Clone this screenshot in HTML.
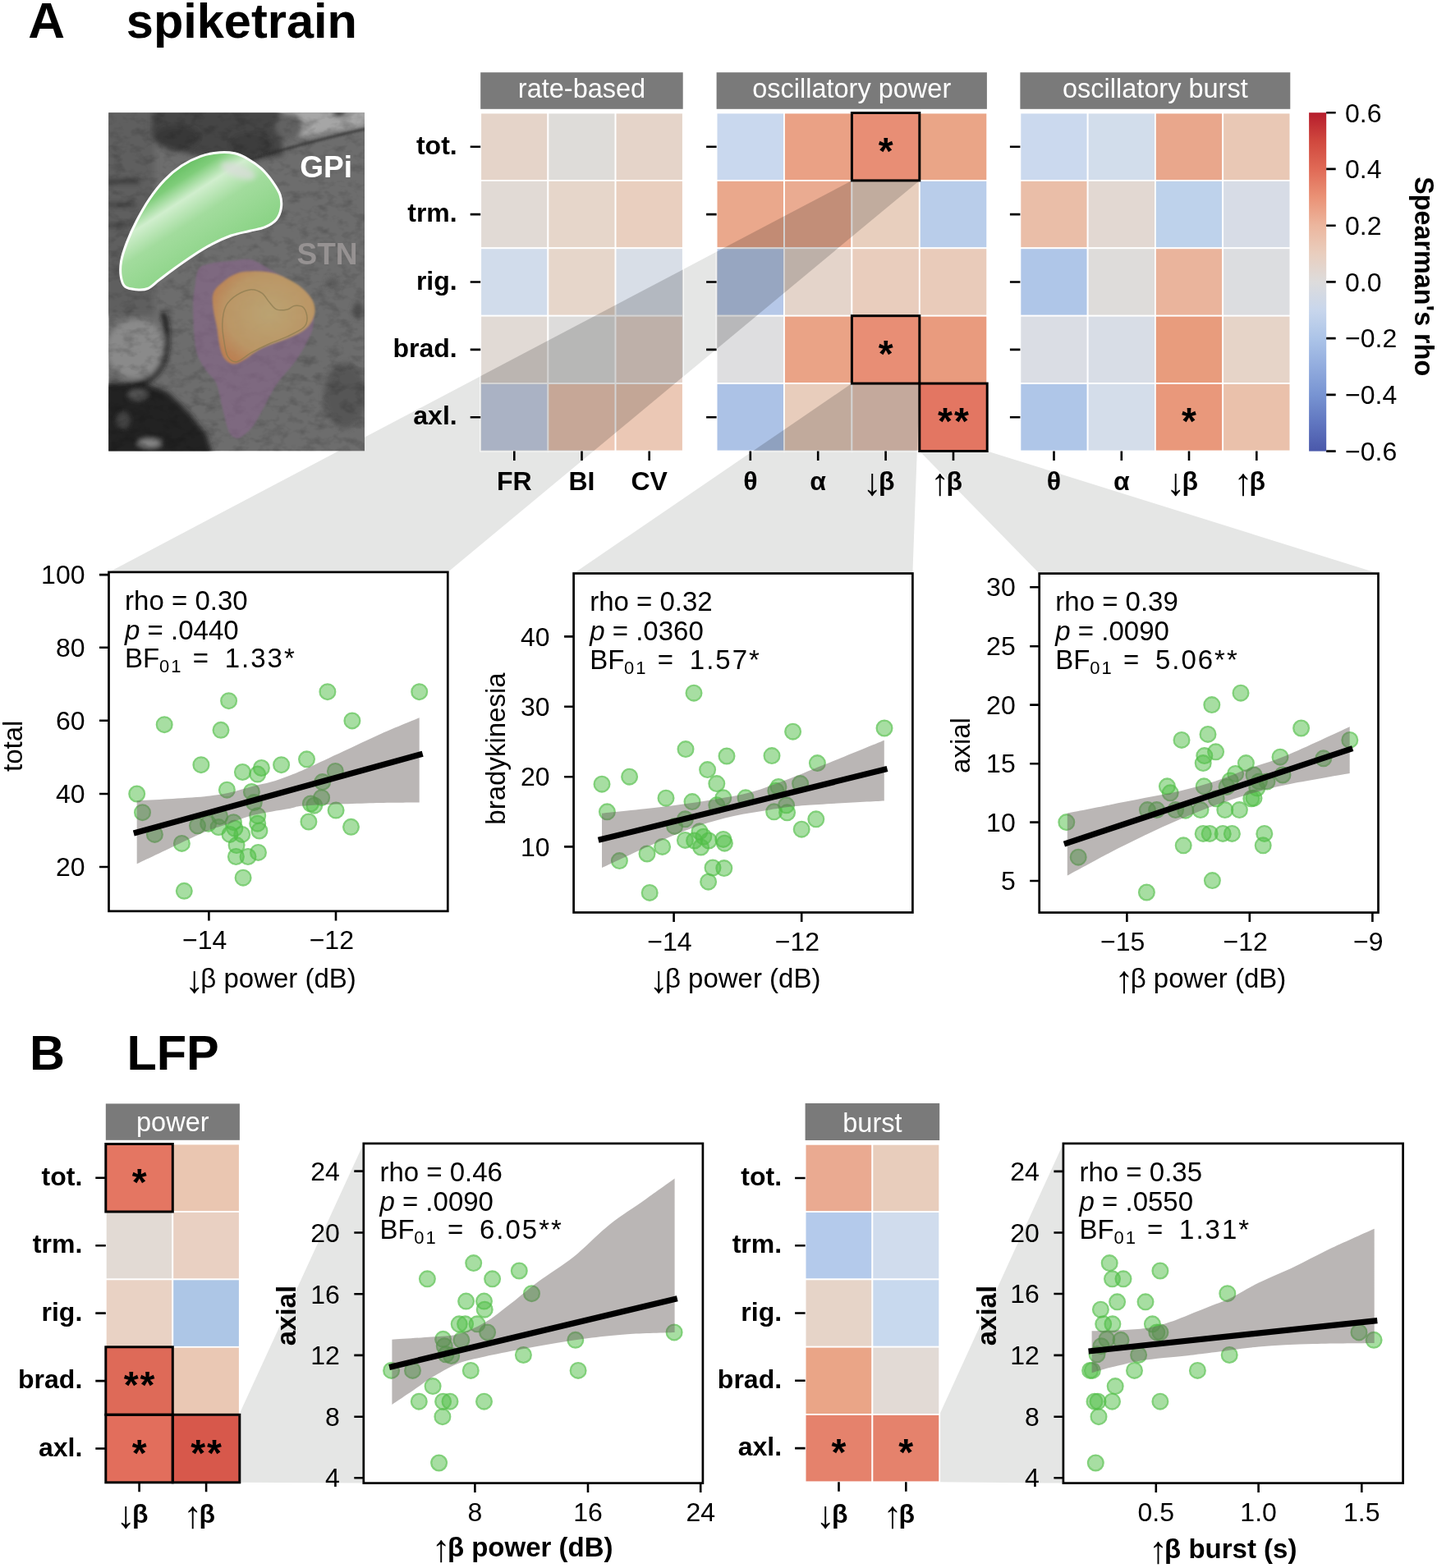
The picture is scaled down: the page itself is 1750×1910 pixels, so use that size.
<!DOCTYPE html><html><head><meta charset="utf-8"><title>figure</title><style>html,body{margin:0;padding:0;background:#fff;}svg{display:block;}</style></head><body><svg width="1750" height="1910" viewBox="0 0 1750 1910" font-family="'Liberation Sans', sans-serif"><defs><clipPath id="bclip"><rect x="132.2" y="137.2" width="311.8" height="412.4"/></clipPath><filter id="blur6" x="-50%" y="-50%" width="200%" height="200%"><feGaussianBlur stdDeviation="6"/></filter><filter id="blur3" x="-50%" y="-50%" width="200%" height="200%"><feGaussianBlur stdDeviation="3"/></filter><filter id="tex" x="0" y="0" width="100%" height="100%"><feTurbulence type="fractalNoise" baseFrequency="0.06 0.09" numOctaves="3" seed="7"/><feColorMatrix type="matrix" values="0 0 0 0 0  0 0 0 0 0  0 0 0 0 0  1.2 0 0 0 -0.55"/></filter><filter id="blur1" x="-20%" y="-20%" width="140%" height="140%"><feGaussianBlur stdDeviation="1.2"/></filter><linearGradient id="gpig" x1="0.15" y1="0.1" x2="0.75" y2="0.9"><stop offset="0" stop-color="#45ad43"/><stop offset="0.22" stop-color="#7fcd7a"/><stop offset="0.34" stop-color="#d0eecd"/><stop offset="0.5" stop-color="#a2dc9d"/><stop offset="0.8" stop-color="#8ad385"/><stop offset="1" stop-color="#5cbd58"/></linearGradient><clipPath id="gpiclip"><path d="M267.4,185.7 C274.3,185.1 280.1,185.5 285.9,186.8 C291.7,188.1 296.6,190.6 302,193.7 C307.4,196.8 313.1,200.6 318.1,205.2 C323.1,209.8 328.1,216 331.9,221.4 C335.7,226.8 339.4,232.1 341.1,237.5 C342.8,242.9 343.1,248.6 342.3,253.6 C341.5,258.6 339.8,263.6 336.5,267.4 C333.2,271.2 328.1,274.3 322.7,276.6 C317.3,278.9 311.2,279.6 304.3,281.3 C297.4,283 289,284.3 281.3,287 C273.6,289.7 265.9,293.4 258.2,297.4 C250.5,301.4 242.9,306.2 235.2,311.2 C227.5,316.2 219,322.3 212.1,327.3 C205.2,332.3 199.1,337.1 193.7,341.1 C188.3,345.1 184.5,349.6 179.9,351.5 C175.3,353.4 170.7,353.1 166.1,352.7 C161.5,352.3 155.5,351.9 152.3,349.2 C149.2,346.5 148,341.7 147.2,336.5 C146.4,331.3 146.4,325 147.6,318.1 C148.8,311.2 151.5,303.2 154.6,295.1 C157.7,287 161.5,278.5 166.1,269.7 C170.7,260.9 176.4,250.5 182.2,242.1 C187.9,233.7 194.1,225.8 200.6,219.1 C207.1,212.4 214.1,206.6 221.4,201.8 C228.7,197 236.7,193 244.4,190.3 C252.1,187.6 260.5,186.3 267.4,185.7Z"/></clipPath><radialGradient id="orng" cx="0.55" cy="0.45" r="0.6"><stop offset="0" stop-color="#c8b070"/><stop offset="0.7" stop-color="#c9a060"/><stop offset="1" stop-color="#c8864a"/></radialGradient><clipPath id="clip_rate"><rect x="585.2" y="137.5" width="246.6" height="412"/></clipPath><clipPath id="clip_opow"><rect x="872.6" y="137.5" width="329.6" height="412"/></clipPath><linearGradient id="cbar" x1="0" y1="0" x2="0" y2="1"><stop offset="0.0000" stop-color="#b61c2c"/><stop offset="0.0833" stop-color="#d0483e"/><stop offset="0.1667" stop-color="#e06a56"/><stop offset="0.2500" stop-color="#ea9276"/><stop offset="0.3333" stop-color="#ecb69e"/><stop offset="0.4167" stop-color="#e9cebe"/><stop offset="0.5000" stop-color="#dddcdc"/><stop offset="0.5833" stop-color="#c8d6ec"/><stop offset="0.6667" stop-color="#acc4e8"/><stop offset="0.7500" stop-color="#92acde"/><stop offset="0.8333" stop-color="#7894d2"/><stop offset="0.9167" stop-color="#6076c0"/><stop offset="1.0000" stop-color="#4a58aa"/></linearGradient></defs><rect width="1750" height="1910" fill="#ffffff"/><polygon points="1037.4,219.9 1119.8,219.9 545.3,696.9 132.5,696.9" fill="#e5e6e5"/>
<polygon points="1037.4,467.1 1119.8,467.1 1111.4,698.5 698.6,698.5" fill="#e5e6e5"/>
<polygon points="1119.8,549.5 1202.2,549.5 1678.5,698.6 1265.7,698.6" fill="#e5e6e5"/>
<polygon points="291.8,1721.8 442.8,1392.9 442.8,1806.6 291.8,1805.8" fill="#e5e6e5"/>
<polygon points="1144.2,1723 1294.9,1392.9 1294.9,1806.6 1144.2,1805.3" fill="#e5e6e5"/>
<g clip-path="url(#bclip)"><rect x="132.2" y="137.2" width="311.8" height="412.4" fill="#6d6d6d"/><g filter="url(#blur3)"><rect x="120" y="130" width="68" height="255" fill="#5e5e5e"/><rect x="128" y="218" width="42" height="6" fill="#363636"/><rect x="128" y="247" width="38" height="5" fill="#3a3a3a"/><rect x="128" y="272" width="30" height="5" fill="#3e3e3e"/><polygon points="185,130 340,130 345,190 300,197 250,192 205,182 185,170" fill="#444"/><ellipse cx="215" cy="167" rx="28" ry="14" fill="#383838"/><ellipse cx="305" cy="176" rx="26" ry="14" fill="#3c3c3c"/><polygon points="345,130 450,130 450,153 412,159 378,166 356,168" fill="#a6a6a6"/><ellipse cx="352" cy="154" rx="17" ry="16" fill="#626262"/><ellipse cx="413" cy="138" rx="9" ry="4" fill="#111"/><ellipse cx="166" cy="425" rx="36" ry="36" fill="#8a8a8a"/><path d="M198,380 C206,400 204,430 197,445 C190,458 180,466 160,469 L120,472" stroke="#161616" stroke-width="6" fill="none"/><polygon points="120,470 180,468 205,478 232,505 252,530 260,560 120,560" fill="#202020"/><ellipse cx="168" cy="481" rx="12" ry="6" fill="#5a5a5a"/><ellipse cx="182" cy="540" rx="14" ry="5" fill="#8a8a8a"/><ellipse cx="150" cy="512" rx="8" ry="10" fill="#444"/><ellipse cx="420" cy="482" rx="26" ry="40" fill="#565656"/><ellipse cx="436" cy="378" rx="6" ry="10" fill="#484848"/><ellipse cx="405" cy="345" rx="8" ry="7" fill="#5a5a5a"/></g><rect x="132.2" y="137.2" width="311.8" height="412.4" filter="url(#tex)" opacity="0.35"/><path d="M292,198 C330,186 380,172 445,157" stroke="#2c2c2c" stroke-width="3.5" stroke-opacity="0.6" fill="none" filter="url(#blur1)"/><path d="M242.1,327.3 C245.5,322.7 252,321.9 258.2,320.4 C264.3,318.9 271.7,318.9 279,318.1 C286.3,317.3 295.9,315.4 302,315.8 C308.1,316.2 311.6,318.5 315.8,320.4 C320,322.3 321.5,323.9 327.3,327.3 C333.1,330.8 343.5,336.9 350.4,341.1 C357.3,345.3 363.8,348.1 368.8,352.7 C373.8,357.3 378.2,361.5 380.3,368.8 C382.4,376.1 382.6,388.3 381.5,396.4 C380.4,404.5 377,410 373.4,417.2 C369.8,424.4 365.9,431.4 360,439.7 C354.1,448 343.9,458.2 337.7,467.1 C331.5,476 327.8,484.5 322.9,493.2 C317.9,501.9 312.9,512.7 308,519.2 C303.1,525.8 296.9,530.2 293.2,532.5 C289.5,534.8 288.2,534.3 285.7,533 C283.2,531.7 280.8,530.6 278.3,524.6 C275.8,518.6 273.4,506.5 270.9,496.9 C268.4,487.3 266.8,474.9 263.4,467.1 C260,459.3 254.5,457.3 250.3,450.3 C246.1,443.3 240.9,437.8 238.4,425 C235.9,412.2 235.3,386.2 235.2,373.4 C235,360.6 236.3,355.8 237.5,348.1 C238.7,340.4 238.7,331.9 242.1,327.3Z" fill="#88668a" fill-opacity="0.62" filter="url(#blur1)"/><path d="M259.8,357.1 C261.6,351.6 266,348 270.8,343.9 C275.5,339.9 281.7,335.2 288.3,332.9 C294.9,330.7 303,330.4 310.3,330.3 C317.7,330.2 325.7,331 332.3,332.5 C338.9,334 344.1,336.5 349.9,339.5 C355.8,342.5 362.4,346.1 367.5,350.5 C372.7,354.9 378.1,360.8 380.7,365.9 C383.4,371.1 384.1,376.2 383.4,381.3 C382.6,386.4 380.1,392.3 376.3,396.7 C372.6,401.1 367.2,404.4 360.9,407.7 C354.7,411 346.3,413.6 338.9,416.5 C331.6,419.4 323.9,421.6 316.9,425.3 C310,429 302.6,435.5 297.1,438.5 C291.6,441.5 288,443.7 283.9,443.3 C279.9,443 275.7,440 273,436.3 C270.2,432.6 268.9,427.1 267.5,420.9 C266,414.7 265.4,406.2 264.2,398.9 C262.9,391.6 260.5,383.9 259.8,376.9 C259,370 257.9,362.6 259.8,357.1Z" fill="url(#orng)" fill-opacity="0.82" filter="url(#blur1)"/><path d="M275.2,372.5 C278.1,366.7 283.2,362.6 288.3,359.3 C293.5,356 300.8,353.1 305.9,352.7 C311.1,352.4 315.5,354.6 319.1,357.1 C322.8,359.7 325,364.8 327.9,368.1 C330.9,371.4 333.1,375.5 336.7,376.9 C340.4,378.4 346.3,377.7 349.9,376.9 C353.6,376.2 355.4,372.9 358.7,372.5 C362,372.2 367.2,372.2 369.7,374.7 C372.3,377.3 374.1,383.9 374.1,387.9 C374.1,391.9 373.8,395.2 369.7,398.9 C365.7,402.6 356.9,406.6 349.9,409.9 C343,413.2 335.3,415.4 327.9,418.7 C320.6,422 312.5,426 305.9,429.7 C299.3,433.4 293.1,440 288.3,440.7 C283.6,441.4 279.9,438.1 277.3,434.1 C274.8,430.1 274.1,423.1 273,416.5 C271.9,409.9 270.4,401.8 270.8,394.5 C271.1,387.2 272.2,378.4 275.2,372.5Z" fill="none" stroke="#8a7a50" stroke-width="1.5" stroke-opacity="0.7"/><path d="M267.4,185.7 C274.3,185.1 280.1,185.5 285.9,186.8 C291.7,188.1 296.6,190.6 302,193.7 C307.4,196.8 313.1,200.6 318.1,205.2 C323.1,209.8 328.1,216 331.9,221.4 C335.7,226.8 339.4,232.1 341.1,237.5 C342.8,242.9 343.1,248.6 342.3,253.6 C341.5,258.6 339.8,263.6 336.5,267.4 C333.2,271.2 328.1,274.3 322.7,276.6 C317.3,278.9 311.2,279.6 304.3,281.3 C297.4,283 289,284.3 281.3,287 C273.6,289.7 265.9,293.4 258.2,297.4 C250.5,301.4 242.9,306.2 235.2,311.2 C227.5,316.2 219,322.3 212.1,327.3 C205.2,332.3 199.1,337.1 193.7,341.1 C188.3,345.1 184.5,349.6 179.9,351.5 C175.3,353.4 170.7,353.1 166.1,352.7 C161.5,352.3 155.5,351.9 152.3,349.2 C149.2,346.5 148,341.7 147.2,336.5 C146.4,331.3 146.4,325 147.6,318.1 C148.8,311.2 151.5,303.2 154.6,295.1 C157.7,287 161.5,278.5 166.1,269.7 C170.7,260.9 176.4,250.5 182.2,242.1 C187.9,233.7 194.1,225.8 200.6,219.1 C207.1,212.4 214.1,206.6 221.4,201.8 C228.7,197 236.7,193 244.4,190.3 C252.1,187.6 260.5,186.3 267.4,185.7Z" fill="url(#gpig)"/><g clip-path="url(#gpiclip)"><ellipse cx="290" cy="208" rx="22" ry="8" transform="rotate(20 290 208)" fill="#d8ddd8" fill-opacity="0.8" filter="url(#blur3)"/></g><path d="M267.4,185.7 C274.3,185.1 280.1,185.5 285.9,186.8 C291.7,188.1 296.6,190.6 302,193.7 C307.4,196.8 313.1,200.6 318.1,205.2 C323.1,209.8 328.1,216 331.9,221.4 C335.7,226.8 339.4,232.1 341.1,237.5 C342.8,242.9 343.1,248.6 342.3,253.6 C341.5,258.6 339.8,263.6 336.5,267.4 C333.2,271.2 328.1,274.3 322.7,276.6 C317.3,278.9 311.2,279.6 304.3,281.3 C297.4,283 289,284.3 281.3,287 C273.6,289.7 265.9,293.4 258.2,297.4 C250.5,301.4 242.9,306.2 235.2,311.2 C227.5,316.2 219,322.3 212.1,327.3 C205.2,332.3 199.1,337.1 193.7,341.1 C188.3,345.1 184.5,349.6 179.9,351.5 C175.3,353.4 170.7,353.1 166.1,352.7 C161.5,352.3 155.5,351.9 152.3,349.2 C149.2,346.5 148,341.7 147.2,336.5 C146.4,331.3 146.4,325 147.6,318.1 C148.8,311.2 151.5,303.2 154.6,295.1 C157.7,287 161.5,278.5 166.1,269.7 C170.7,260.9 176.4,250.5 182.2,242.1 C187.9,233.7 194.1,225.8 200.6,219.1 C207.1,212.4 214.1,206.6 221.4,201.8 C228.7,197 236.7,193 244.4,190.3 C252.1,187.6 260.5,186.3 267.4,185.7Z" fill="none" stroke="#ffffff" stroke-width="3"/></g>
<text x="365.3" y="216.4" font-size="37" font-weight="bold" text-anchor="start" fill="#ffffff" >GPi</text>
<text x="361.5" y="322.3" font-size="37" font-weight="bold" text-anchor="start" fill="#969292" >STN</text>
<rect x="585.2" y="137.5" width="82.2" height="82.4" fill="#e5d4c9" stroke="#ffffff" stroke-width="1.8"/><rect x="667.4" y="137.5" width="82.2" height="82.4" fill="#dedcd9" stroke="#ffffff" stroke-width="1.8"/><rect x="749.6" y="137.5" width="82.2" height="82.4" fill="#e5d4c9" stroke="#ffffff" stroke-width="1.8"/><rect x="585.2" y="219.9" width="82.2" height="82.4" fill="#e1dad5" stroke="#ffffff" stroke-width="1.8"/><rect x="667.4" y="219.9" width="82.2" height="82.4" fill="#e6d6ca" stroke="#ffffff" stroke-width="1.8"/><rect x="749.6" y="219.9" width="82.2" height="82.4" fill="#e9cfbf" stroke="#ffffff" stroke-width="1.8"/><rect x="585.2" y="302.3" width="82.2" height="82.4" fill="#d1dceb" stroke="#ffffff" stroke-width="1.8"/><rect x="667.4" y="302.3" width="82.2" height="82.4" fill="#e6d6ca" stroke="#ffffff" stroke-width="1.8"/><rect x="749.6" y="302.3" width="82.2" height="82.4" fill="#d8dee7" stroke="#ffffff" stroke-width="1.8"/><rect x="585.2" y="384.7" width="82.2" height="82.4" fill="#e1dad5" stroke="#ffffff" stroke-width="1.8"/><rect x="667.4" y="384.7" width="82.2" height="82.4" fill="#dddcdb" stroke="#ffffff" stroke-width="1.8"/><rect x="749.6" y="384.7" width="82.2" height="82.4" fill="#e5d4cc" stroke="#ffffff" stroke-width="1.8"/><rect x="585.2" y="467.1" width="82.2" height="82.4" fill="#cdd7ec" stroke="#ffffff" stroke-width="1.8"/><rect x="667.4" y="467.1" width="82.2" height="82.4" fill="#eec9b6" stroke="#ffffff" stroke-width="1.8"/><rect x="749.6" y="467.1" width="82.2" height="82.4" fill="#ebc8b5" stroke="#ffffff" stroke-width="1.8"/>
<g clip-path="url(#clip_rate)" fill="#000" fill-opacity="0.17"><polygon points="1037.4,219.9 1119.8,219.9 545.3,696.9 132.5,696.9"/><polygon points="1037.4,467.1 1119.8,467.1 1111.4,698.5 698.6,698.5"/></g>
<rect x="872.6" y="137.5" width="82.4" height="82.4" fill="#c9d8ee" stroke="#ffffff" stroke-width="1.8"/><rect x="955" y="137.5" width="82.4" height="82.4" fill="#eaa185" stroke="#ffffff" stroke-width="1.8"/><rect x="1037.4" y="137.5" width="82.4" height="82.4" fill="#e88e75" stroke="#ffffff" stroke-width="1.8"/><rect x="1119.8" y="137.5" width="82.4" height="82.4" fill="#eaa587" stroke="#ffffff" stroke-width="1.8"/><rect x="872.6" y="219.9" width="82.4" height="82.4" fill="#eaa88c" stroke="#ffffff" stroke-width="1.8"/><rect x="955" y="219.9" width="82.4" height="82.4" fill="#eaab91" stroke="#ffffff" stroke-width="1.8"/><rect x="1037.4" y="219.9" width="82.4" height="82.4" fill="#e8cfbe" stroke="#ffffff" stroke-width="1.8"/><rect x="1119.8" y="219.9" width="82.4" height="82.4" fill="#b9cdea" stroke="#ffffff" stroke-width="1.8"/><rect x="872.6" y="302.3" width="82.4" height="82.4" fill="#b6c8e8" stroke="#ffffff" stroke-width="1.8"/><rect x="955" y="302.3" width="82.4" height="82.4" fill="#e4d4ca" stroke="#ffffff" stroke-width="1.8"/><rect x="1037.4" y="302.3" width="82.4" height="82.4" fill="#e9cdbd" stroke="#ffffff" stroke-width="1.8"/><rect x="1119.8" y="302.3" width="82.4" height="82.4" fill="#e9cbba" stroke="#ffffff" stroke-width="1.8"/><rect x="872.6" y="384.7" width="82.4" height="82.4" fill="#dedee0" stroke="#ffffff" stroke-width="1.8"/><rect x="955" y="384.7" width="82.4" height="82.4" fill="#eaa386" stroke="#ffffff" stroke-width="1.8"/><rect x="1037.4" y="384.7" width="82.4" height="82.4" fill="#e88e75" stroke="#ffffff" stroke-width="1.8"/><rect x="1119.8" y="384.7" width="82.4" height="82.4" fill="#e99b7e" stroke="#ffffff" stroke-width="1.8"/><rect x="872.6" y="467.1" width="82.4" height="82.4" fill="#acc2e6" stroke="#ffffff" stroke-width="1.8"/><rect x="955" y="467.1" width="82.4" height="82.4" fill="#e8cdbc" stroke="#ffffff" stroke-width="1.8"/><rect x="1037.4" y="467.1" width="82.4" height="82.4" fill="#ecccbc" stroke="#ffffff" stroke-width="1.8"/><rect x="1119.8" y="467.1" width="82.4" height="82.4" fill="#e37662" stroke="#ffffff" stroke-width="1.8"/>
<g clip-path="url(#clip_opow)" fill="#000" fill-opacity="0.17"><polygon points="1037.4,219.9 1119.8,219.9 545.3,696.9 132.5,696.9"/><polygon points="1037.4,467.1 1119.8,467.1 1111.4,698.5 698.6,698.5"/></g>
<rect x="1242.4" y="137.5" width="82.2" height="82.4" fill="#cbd9ee" stroke="#ffffff" stroke-width="1.8"/><rect x="1324.7" y="137.5" width="82.2" height="82.4" fill="#d2ddeb" stroke="#ffffff" stroke-width="1.8"/><rect x="1406.9" y="137.5" width="82.2" height="82.4" fill="#e9a78c" stroke="#ffffff" stroke-width="1.8"/><rect x="1489.2" y="137.5" width="82.2" height="82.4" fill="#e9c8b5" stroke="#ffffff" stroke-width="1.8"/><rect x="1242.4" y="219.9" width="82.2" height="82.4" fill="#eabea8" stroke="#ffffff" stroke-width="1.8"/><rect x="1324.7" y="219.9" width="82.2" height="82.4" fill="#e2d8d2" stroke="#ffffff" stroke-width="1.8"/><rect x="1406.9" y="219.9" width="82.2" height="82.4" fill="#bed2eb" stroke="#ffffff" stroke-width="1.8"/><rect x="1489.2" y="219.9" width="82.2" height="82.4" fill="#d7dce6" stroke="#ffffff" stroke-width="1.8"/><rect x="1242.4" y="302.3" width="82.2" height="82.4" fill="#afc6e8" stroke="#ffffff" stroke-width="1.8"/><rect x="1324.7" y="302.3" width="82.2" height="82.4" fill="#dedcda" stroke="#ffffff" stroke-width="1.8"/><rect x="1406.9" y="302.3" width="82.2" height="82.4" fill="#eab49c" stroke="#ffffff" stroke-width="1.8"/><rect x="1489.2" y="302.3" width="82.2" height="82.4" fill="#dcdde0" stroke="#ffffff" stroke-width="1.8"/><rect x="1242.4" y="384.7" width="82.2" height="82.4" fill="#dadde4" stroke="#ffffff" stroke-width="1.8"/><rect x="1324.7" y="384.7" width="82.2" height="82.4" fill="#d8dde6" stroke="#ffffff" stroke-width="1.8"/><rect x="1406.9" y="384.7" width="82.2" height="82.4" fill="#e89c7d" stroke="#ffffff" stroke-width="1.8"/><rect x="1489.2" y="384.7" width="82.2" height="82.4" fill="#e6d4c8" stroke="#ffffff" stroke-width="1.8"/><rect x="1242.4" y="467.1" width="82.2" height="82.4" fill="#afc6e8" stroke="#ffffff" stroke-width="1.8"/><rect x="1324.7" y="467.1" width="82.2" height="82.4" fill="#d4ddea" stroke="#ffffff" stroke-width="1.8"/><rect x="1406.9" y="467.1" width="82.2" height="82.4" fill="#e9987b" stroke="#ffffff" stroke-width="1.8"/><rect x="1489.2" y="467.1" width="82.2" height="82.4" fill="#eac1ab" stroke="#ffffff" stroke-width="1.8"/>
<rect x="128.8" y="1393.5" width="81.5" height="82.5" fill="#e47662" stroke="#ffffff" stroke-width="1.8"/><rect x="210.3" y="1393.5" width="81.5" height="82.5" fill="#eac6b1" stroke="#ffffff" stroke-width="1.8"/><rect x="128.8" y="1476" width="81.5" height="82.5" fill="#e2dad4" stroke="#ffffff" stroke-width="1.8"/><rect x="210.3" y="1476" width="81.5" height="82.5" fill="#e9d0c2" stroke="#ffffff" stroke-width="1.8"/><rect x="128.8" y="1558.4" width="81.5" height="82.5" fill="#e9d2c4" stroke="#ffffff" stroke-width="1.8"/><rect x="210.3" y="1558.4" width="81.5" height="82.5" fill="#adc6e6" stroke="#ffffff" stroke-width="1.8"/><rect x="128.8" y="1640.8" width="81.5" height="82.5" fill="#de6a58" stroke="#ffffff" stroke-width="1.8"/><rect x="210.3" y="1640.8" width="81.5" height="82.5" fill="#eac8b4" stroke="#ffffff" stroke-width="1.8"/><rect x="128.8" y="1723.3" width="81.5" height="82.5" fill="#e26e5c" stroke="#ffffff" stroke-width="1.8"/><rect x="210.3" y="1723.3" width="81.5" height="82.5" fill="#d7584b" stroke="#ffffff" stroke-width="1.8"/>
<rect x="980.6" y="1393.8" width="81.8" height="82.3" fill="#eaaa91" stroke="#ffffff" stroke-width="1.8"/><rect x="1062.4" y="1393.8" width="81.8" height="82.3" fill="#e8cdbc" stroke="#ffffff" stroke-width="1.8"/><rect x="980.6" y="1476.1" width="81.8" height="82.3" fill="#b4caeb" stroke="#ffffff" stroke-width="1.8"/><rect x="1062.4" y="1476.1" width="81.8" height="82.3" fill="#d0dced" stroke="#ffffff" stroke-width="1.8"/><rect x="980.6" y="1558.4" width="81.8" height="82.3" fill="#e6d4c8" stroke="#ffffff" stroke-width="1.8"/><rect x="1062.4" y="1558.4" width="81.8" height="82.3" fill="#c8d9ee" stroke="#ffffff" stroke-width="1.8"/><rect x="980.6" y="1640.7" width="81.8" height="82.3" fill="#eaa587" stroke="#ffffff" stroke-width="1.8"/><rect x="1062.4" y="1640.7" width="81.8" height="82.3" fill="#e2dad5" stroke="#ffffff" stroke-width="1.8"/><rect x="980.6" y="1723" width="81.8" height="82.3" fill="#e5826c" stroke="#ffffff" stroke-width="1.8"/><rect x="1062.4" y="1723" width="81.8" height="82.3" fill="#e5826c" stroke="#ffffff" stroke-width="1.8"/>
<rect x="1037.4" y="137.5" width="82.4" height="82.4" fill="none" stroke="#000" stroke-width="3"/>
<rect x="1037.4" y="384.7" width="82.4" height="82.4" fill="none" stroke="#000" stroke-width="3"/>
<rect x="1119.8" y="467.1" width="82.4" height="82.4" fill="none" stroke="#000" stroke-width="3"/>
<rect x="128.8" y="1393.5" width="81.5" height="82.5" fill="none" stroke="#000" stroke-width="3"/>
<rect x="128.8" y="1640.8" width="81.5" height="82.5" fill="none" stroke="#000" stroke-width="3"/>
<rect x="128.8" y="1723.3" width="81.5" height="82.5" fill="none" stroke="#000" stroke-width="3"/>
<rect x="210.3" y="1723.3" width="81.5" height="82.5" fill="none" stroke="#000" stroke-width="3"/>
<text x="1078.6" y="199.7" font-size="46" font-weight="bold" text-anchor="middle" fill="#000" >*</text>
<text x="1078.6" y="446.9" font-size="46" font-weight="bold" text-anchor="middle" fill="#000" >*</text>
<text x="1162" y="529.3" font-size="46" font-weight="bold" text-anchor="middle" fill="#000"  letter-spacing="2">**</text>
<text x="1448" y="529.3" font-size="46" font-weight="bold" text-anchor="middle" fill="#000" >*</text>
<text x="169.6" y="1455.7" font-size="46" font-weight="bold" text-anchor="middle" fill="#000" >*</text>
<text x="170.6" y="1703.1" font-size="46" font-weight="bold" text-anchor="middle" fill="#000"  letter-spacing="2">**</text>
<text x="169.6" y="1785.5" font-size="46" font-weight="bold" text-anchor="middle" fill="#000" >*</text>
<text x="252.1" y="1785.5" font-size="46" font-weight="bold" text-anchor="middle" fill="#000"  letter-spacing="2">**</text>
<text x="1021.5" y="1785.2" font-size="46" font-weight="bold" text-anchor="middle" fill="#000" >*</text>
<text x="1103.3" y="1785.2" font-size="46" font-weight="bold" text-anchor="middle" fill="#000" >*</text>
<rect x="585.2" y="88.2" width="246.5" height="44.6" fill="#7a7a7a"/>
<text x="708.5" y="118.9" font-size="32.5" font-weight="normal" text-anchor="middle" fill="#ffffff" >rate-based</text>
<rect x="872.6" y="88.2" width="329.3" height="44.6" fill="#7a7a7a"/>
<text x="1037.2" y="118.9" font-size="32.5" font-weight="normal" text-anchor="middle" fill="#ffffff" >oscillatory power</text>
<rect x="1242.4" y="88.2" width="328.9" height="44.6" fill="#7a7a7a"/>
<text x="1406.8" y="118.9" font-size="32.5" font-weight="normal" text-anchor="middle" fill="#ffffff" >oscillatory burst</text>
<rect x="128.8" y="1344.4" width="163.1" height="44.4" fill="#7a7a7a"/>
<text x="210.3" y="1378.4" font-size="32.5" font-weight="normal" text-anchor="middle" fill="#ffffff" >power</text>
<rect x="980.6" y="1343.9" width="163.6" height="45.1" fill="#7a7a7a"/>
<text x="1062.4" y="1378.5" font-size="32.5" font-weight="normal" text-anchor="middle" fill="#ffffff" >burst</text>
<text x="556.7" y="187.7" font-size="32" font-weight="bold" text-anchor="end" fill="#000" >tot.</text>
<text x="556.7" y="270.1" font-size="32" font-weight="bold" text-anchor="end" fill="#000" >trm.</text>
<text x="556.7" y="352.5" font-size="32" font-weight="bold" text-anchor="end" fill="#000" >rig.</text>
<text x="556.7" y="434.9" font-size="32" font-weight="bold" text-anchor="end" fill="#000" >brad.</text>
<text x="556.7" y="517.3" font-size="32" font-weight="bold" text-anchor="end" fill="#000" >axl.</text>
<text x="626.3" y="597.4" font-size="32" font-weight="bold" text-anchor="middle" fill="#000" >FR</text>
<text x="708.5" y="597.4" font-size="32" font-weight="bold" text-anchor="middle" fill="#000" >BI</text>
<text x="790.7" y="597.4" font-size="32" font-weight="bold" text-anchor="middle" fill="#000" >CV</text>
<text x="913.8" y="597.4" font-size="32" font-weight="bold" text-anchor="middle" fill="#000" >θ</text>
<text x="996.2" y="597.4" font-size="32" font-weight="bold" text-anchor="middle" fill="#000" >α</text>
<text x="1050.5" y="597.4" font-size="32" font-weight="bold" ><tspan font-size="46" font-weight="normal" dy="6.0">↓</tspan><tspan dx="-3.6" dy="-6.0">β</tspan></text>
<text x="1133" y="597.4" font-size="32" font-weight="bold" ><tspan font-size="46" font-weight="normal" dy="6.0">↑</tspan><tspan dx="-3.6" dy="-6.0">β</tspan></text>
<text x="1283.5" y="597.4" font-size="32" font-weight="bold" text-anchor="middle" fill="#000" >θ</text>
<text x="1365.8" y="597.4" font-size="32" font-weight="bold" text-anchor="middle" fill="#000" >α</text>
<text x="1420" y="597.4" font-size="32" font-weight="bold" ><tspan font-size="46" font-weight="normal" dy="6.0">↓</tspan><tspan dx="-3.6" dy="-6.0">β</tspan></text>
<text x="1502.2" y="597.4" font-size="32" font-weight="bold" ><tspan font-size="46" font-weight="normal" dy="6.0">↑</tspan><tspan dx="-3.6" dy="-6.0">β</tspan></text>
<text x="100.3" y="1443.7" font-size="32" font-weight="bold" text-anchor="end" fill="#000" >tot.</text>
<text x="100.3" y="1526.2" font-size="32" font-weight="bold" text-anchor="end" fill="#000" >trm.</text>
<text x="100.3" y="1608.6" font-size="32" font-weight="bold" text-anchor="end" fill="#000" >rig.</text>
<text x="100.3" y="1691.1" font-size="32" font-weight="bold" text-anchor="end" fill="#000" >brad.</text>
<text x="100.3" y="1773.5" font-size="32" font-weight="bold" text-anchor="end" fill="#000" >axl.</text>
<text x="141.5" y="1854.5" font-size="32" font-weight="bold" ><tspan font-size="46" font-weight="normal" dy="6.0">↓</tspan><tspan dx="-3.6" dy="-6.0">β</tspan></text>
<text x="223" y="1854.5" font-size="32" font-weight="bold" ><tspan font-size="46" font-weight="normal" dy="6.0">↑</tspan><tspan dx="-3.6" dy="-6.0">β</tspan></text>
<text x="952.1" y="1444" font-size="32" font-weight="bold" text-anchor="end" fill="#000" >tot.</text>
<text x="952.1" y="1526.2" font-size="32" font-weight="bold" text-anchor="end" fill="#000" >trm.</text>
<text x="952.1" y="1608.5" font-size="32" font-weight="bold" text-anchor="end" fill="#000" >rig.</text>
<text x="952.1" y="1690.8" font-size="32" font-weight="bold" text-anchor="end" fill="#000" >brad.</text>
<text x="952.1" y="1773.1" font-size="32" font-weight="bold" text-anchor="end" fill="#000" >axl.</text>
<text x="993.5" y="1854.5" font-size="32" font-weight="bold" ><tspan font-size="46" font-weight="normal" dy="6.0">↓</tspan><tspan dx="-3.6" dy="-6.0">β</tspan></text>
<text x="1075.2" y="1854.5" font-size="32" font-weight="bold" ><tspan font-size="46" font-weight="normal" dy="6.0">↑</tspan><tspan dx="-3.6" dy="-6.0">β</tspan></text>
<path d="M572.7,178.7H585.2M572.7,261.1H585.2M572.7,343.5H585.2M572.7,425.9H585.2M572.7,508.3H585.2M626.3,549.5V561M708.5,549.5V561M790.7,549.5V561M860.1,178.7H872.6M860.1,261.1H872.6M860.1,343.5H872.6M860.1,425.9H872.6M860.1,508.3H872.6M913.8,549.5V561M996.2,549.5V561M1078.6,549.5V561M1161,549.5V561M1229.9,178.7H1242.4M1229.9,261.1H1242.4M1229.9,343.5H1242.4M1229.9,425.9H1242.4M1229.9,508.3H1242.4M1283.5,549.5V561M1365.8,549.5V561M1448,549.5V561M1530.3,549.5V561M116.3,1434.7H128.8M116.3,1517.2H128.8M116.3,1599.6H128.8M116.3,1682.1H128.8M116.3,1764.5H128.8M169.6,1805.8V1817.2M251.1,1805.8V1817.2M968.1,1435H980.6M968.1,1517.2H980.6M968.1,1599.5H980.6M968.1,1681.8H980.6M968.1,1764.1H980.6M1021.5,1805.3V1816.8M1103.3,1805.3V1816.8" stroke="#000" stroke-width="2.6" fill="none"/>
<rect x="1594.1" y="137.2" width="21.1" height="412.4" fill="url(#cbar)"/>
<text x="1638" y="148.5" font-size="32" font-weight="normal" text-anchor="start" fill="#000" >0.6</text>
<text x="1638" y="217.2" font-size="32" font-weight="normal" text-anchor="start" fill="#000" >0.4</text>
<text x="1638" y="286" font-size="32" font-weight="normal" text-anchor="start" fill="#000" >0.2</text>
<text x="1638" y="354.7" font-size="32" font-weight="normal" text-anchor="start" fill="#000" >0.0</text>
<text x="1638" y="423.4" font-size="32" font-weight="normal" text-anchor="start" fill="#000" >−0.2</text>
<text x="1638" y="492.2" font-size="32" font-weight="normal" text-anchor="start" fill="#000" >−0.4</text>
<text x="1638" y="560.9" font-size="32" font-weight="normal" text-anchor="start" fill="#000" >−0.6</text>
<path d="M1615.2,137.2H1626.7M1615.2,205.9H1626.7M1615.2,274.7H1626.7M1615.2,343.4H1626.7M1615.2,412.1H1626.7M1615.2,480.9H1626.7M1615.2,549.6H1626.7" stroke="#000" stroke-width="2.6" fill="none"/>
<text transform="translate(1722.5,336.7) rotate(90)" font-size="32.3" font-weight="bold" text-anchor="middle">Spearman's rho</text>
<text x="34.2" y="46" font-size="62" font-weight="bold" text-anchor="start" fill="#000" >A</text>
<text x="153.8" y="46" font-size="59.5" font-weight="bold" text-anchor="start" fill="#000" >spiketrain</text>
<text x="36" y="1302.5" font-size="59.5" font-weight="bold" text-anchor="start" fill="#000" >B</text>
<text x="154.4" y="1302.5" font-size="59.5" font-weight="bold" text-anchor="start" fill="#000" >LFP</text>
<circle cx="278.6" cy="853.7" r="7.9" fill="#50be46" fill-opacity="0.5"/><circle cx="278.6" cy="853.7" r="9.2" fill="none" stroke="#50be46" stroke-opacity="0.72" stroke-width="2.6"/><circle cx="200.2" cy="882.7" r="7.9" fill="#50be46" fill-opacity="0.5"/><circle cx="200.2" cy="882.7" r="9.2" fill="none" stroke="#50be46" stroke-opacity="0.72" stroke-width="2.6"/><circle cx="269" cy="889.3" r="7.9" fill="#50be46" fill-opacity="0.5"/><circle cx="269" cy="889.3" r="9.2" fill="none" stroke="#50be46" stroke-opacity="0.72" stroke-width="2.6"/><circle cx="244.9" cy="931.7" r="7.9" fill="#50be46" fill-opacity="0.5"/><circle cx="244.9" cy="931.7" r="9.2" fill="none" stroke="#50be46" stroke-opacity="0.72" stroke-width="2.6"/><circle cx="295.4" cy="940.5" r="7.9" fill="#50be46" fill-opacity="0.5"/><circle cx="295.4" cy="940.5" r="9.2" fill="none" stroke="#50be46" stroke-opacity="0.72" stroke-width="2.6"/><circle cx="318.4" cy="935.5" r="7.9" fill="#50be46" fill-opacity="0.5"/><circle cx="318.4" cy="935.5" r="9.2" fill="none" stroke="#50be46" stroke-opacity="0.72" stroke-width="2.6"/><circle cx="313.7" cy="943.1" r="7.9" fill="#50be46" fill-opacity="0.5"/><circle cx="313.7" cy="943.1" r="9.2" fill="none" stroke="#50be46" stroke-opacity="0.72" stroke-width="2.6"/><circle cx="342.6" cy="931.7" r="7.9" fill="#50be46" fill-opacity="0.5"/><circle cx="342.6" cy="931.7" r="9.2" fill="none" stroke="#50be46" stroke-opacity="0.72" stroke-width="2.6"/><circle cx="166.7" cy="967" r="7.9" fill="#50be46" fill-opacity="0.5"/><circle cx="166.7" cy="967" r="9.2" fill="none" stroke="#50be46" stroke-opacity="0.72" stroke-width="2.6"/><circle cx="276.4" cy="962.2" r="7.9" fill="#50be46" fill-opacity="0.5"/><circle cx="276.4" cy="962.2" r="9.2" fill="none" stroke="#50be46" stroke-opacity="0.72" stroke-width="2.6"/><circle cx="306.4" cy="964.4" r="7.9" fill="#50be46" fill-opacity="0.5"/><circle cx="306.4" cy="964.4" r="9.2" fill="none" stroke="#50be46" stroke-opacity="0.72" stroke-width="2.6"/><circle cx="309.3" cy="977.6" r="7.9" fill="#50be46" fill-opacity="0.5"/><circle cx="309.3" cy="977.6" r="9.2" fill="none" stroke="#50be46" stroke-opacity="0.72" stroke-width="2.6"/><circle cx="173.5" cy="989.7" r="7.9" fill="#50be46" fill-opacity="0.5"/><circle cx="173.5" cy="989.7" r="9.2" fill="none" stroke="#50be46" stroke-opacity="0.72" stroke-width="2.6"/><circle cx="188.4" cy="1016.4" r="7.9" fill="#50be46" fill-opacity="0.5"/><circle cx="188.4" cy="1016.4" r="9.2" fill="none" stroke="#50be46" stroke-opacity="0.72" stroke-width="2.6"/><circle cx="221.4" cy="1027.4" r="7.9" fill="#50be46" fill-opacity="0.5"/><circle cx="221.4" cy="1027.4" r="9.2" fill="none" stroke="#50be46" stroke-opacity="0.72" stroke-width="2.6"/><circle cx="240.5" cy="1005.8" r="7.9" fill="#50be46" fill-opacity="0.5"/><circle cx="240.5" cy="1005.8" r="9.2" fill="none" stroke="#50be46" stroke-opacity="0.72" stroke-width="2.6"/><circle cx="253.6" cy="1003.2" r="7.9" fill="#50be46" fill-opacity="0.5"/><circle cx="253.6" cy="1003.2" r="9.2" fill="none" stroke="#50be46" stroke-opacity="0.72" stroke-width="2.6"/><circle cx="267.6" cy="994.4" r="7.9" fill="#50be46" fill-opacity="0.5"/><circle cx="267.6" cy="994.4" r="9.2" fill="none" stroke="#50be46" stroke-opacity="0.72" stroke-width="2.6"/><circle cx="266.1" cy="1007.6" r="7.9" fill="#50be46" fill-opacity="0.5"/><circle cx="266.1" cy="1007.6" r="9.2" fill="none" stroke="#50be46" stroke-opacity="0.72" stroke-width="2.6"/><circle cx="284.4" cy="1001.7" r="7.9" fill="#50be46" fill-opacity="0.5"/><circle cx="284.4" cy="1001.7" r="9.2" fill="none" stroke="#50be46" stroke-opacity="0.72" stroke-width="2.6"/><circle cx="285.9" cy="1009.1" r="7.9" fill="#50be46" fill-opacity="0.5"/><circle cx="285.9" cy="1009.1" r="9.2" fill="none" stroke="#50be46" stroke-opacity="0.72" stroke-width="2.6"/><circle cx="280" cy="1016.4" r="7.9" fill="#50be46" fill-opacity="0.5"/><circle cx="280" cy="1016.4" r="9.2" fill="none" stroke="#50be46" stroke-opacity="0.72" stroke-width="2.6"/><circle cx="294.7" cy="1016.4" r="7.9" fill="#50be46" fill-opacity="0.5"/><circle cx="294.7" cy="1016.4" r="9.2" fill="none" stroke="#50be46" stroke-opacity="0.72" stroke-width="2.6"/><circle cx="288.1" cy="1029.6" r="7.9" fill="#50be46" fill-opacity="0.5"/><circle cx="288.1" cy="1029.6" r="9.2" fill="none" stroke="#50be46" stroke-opacity="0.72" stroke-width="2.6"/><circle cx="287.4" cy="1043.5" r="7.9" fill="#50be46" fill-opacity="0.5"/><circle cx="287.4" cy="1043.5" r="9.2" fill="none" stroke="#50be46" stroke-opacity="0.72" stroke-width="2.6"/><circle cx="302" cy="1043.5" r="7.9" fill="#50be46" fill-opacity="0.5"/><circle cx="302" cy="1043.5" r="9.2" fill="none" stroke="#50be46" stroke-opacity="0.72" stroke-width="2.6"/><circle cx="314.5" cy="1038.4" r="7.9" fill="#50be46" fill-opacity="0.5"/><circle cx="314.5" cy="1038.4" r="9.2" fill="none" stroke="#50be46" stroke-opacity="0.72" stroke-width="2.6"/><circle cx="313.7" cy="993.7" r="7.9" fill="#50be46" fill-opacity="0.5"/><circle cx="313.7" cy="993.7" r="9.2" fill="none" stroke="#50be46" stroke-opacity="0.72" stroke-width="2.6"/><circle cx="313.7" cy="1003.2" r="7.9" fill="#50be46" fill-opacity="0.5"/><circle cx="313.7" cy="1003.2" r="9.2" fill="none" stroke="#50be46" stroke-opacity="0.72" stroke-width="2.6"/><circle cx="315.9" cy="1012" r="7.9" fill="#50be46" fill-opacity="0.5"/><circle cx="315.9" cy="1012" r="9.2" fill="none" stroke="#50be46" stroke-opacity="0.72" stroke-width="2.6"/><circle cx="296.1" cy="1069.2" r="7.9" fill="#50be46" fill-opacity="0.5"/><circle cx="296.1" cy="1069.2" r="9.2" fill="none" stroke="#50be46" stroke-opacity="0.72" stroke-width="2.6"/><circle cx="224.3" cy="1085.3" r="7.9" fill="#50be46" fill-opacity="0.5"/><circle cx="224.3" cy="1085.3" r="9.2" fill="none" stroke="#50be46" stroke-opacity="0.72" stroke-width="2.6"/><circle cx="398.9" cy="842.7" r="7.9" fill="#50be46" fill-opacity="0.5"/><circle cx="398.9" cy="842.7" r="9.2" fill="none" stroke="#50be46" stroke-opacity="0.72" stroke-width="2.6"/><circle cx="510.7" cy="842.7" r="7.9" fill="#50be46" fill-opacity="0.5"/><circle cx="510.7" cy="842.7" r="9.2" fill="none" stroke="#50be46" stroke-opacity="0.72" stroke-width="2.6"/><circle cx="428.9" cy="877.9" r="7.9" fill="#50be46" fill-opacity="0.5"/><circle cx="428.9" cy="877.9" r="9.2" fill="none" stroke="#50be46" stroke-opacity="0.72" stroke-width="2.6"/><circle cx="373.5" cy="924.8" r="7.9" fill="#50be46" fill-opacity="0.5"/><circle cx="373.5" cy="924.8" r="9.2" fill="none" stroke="#50be46" stroke-opacity="0.72" stroke-width="2.6"/><circle cx="408.4" cy="939.4" r="7.9" fill="#50be46" fill-opacity="0.5"/><circle cx="408.4" cy="939.4" r="9.2" fill="none" stroke="#50be46" stroke-opacity="0.72" stroke-width="2.6"/><circle cx="392.7" cy="952.6" r="7.9" fill="#50be46" fill-opacity="0.5"/><circle cx="392.7" cy="952.6" r="9.2" fill="none" stroke="#50be46" stroke-opacity="0.72" stroke-width="2.6"/><circle cx="391.6" cy="971.7" r="7.9" fill="#50be46" fill-opacity="0.5"/><circle cx="391.6" cy="971.7" r="9.2" fill="none" stroke="#50be46" stroke-opacity="0.72" stroke-width="2.6"/><circle cx="378.4" cy="979" r="7.9" fill="#50be46" fill-opacity="0.5"/><circle cx="378.4" cy="979" r="9.2" fill="none" stroke="#50be46" stroke-opacity="0.72" stroke-width="2.6"/><circle cx="382.8" cy="981.2" r="7.9" fill="#50be46" fill-opacity="0.5"/><circle cx="382.8" cy="981.2" r="9.2" fill="none" stroke="#50be46" stroke-opacity="0.72" stroke-width="2.6"/><circle cx="409.1" cy="987.1" r="7.9" fill="#50be46" fill-opacity="0.5"/><circle cx="409.1" cy="987.1" r="9.2" fill="none" stroke="#50be46" stroke-opacity="0.72" stroke-width="2.6"/><circle cx="375.9" cy="1001" r="7.9" fill="#50be46" fill-opacity="0.5"/><circle cx="375.9" cy="1001" r="9.2" fill="none" stroke="#50be46" stroke-opacity="0.72" stroke-width="2.6"/><circle cx="427.5" cy="1007.3" r="7.9" fill="#50be46" fill-opacity="0.5"/><circle cx="427.5" cy="1007.3" r="9.2" fill="none" stroke="#50be46" stroke-opacity="0.72" stroke-width="2.6"/>
<path d="M166.7,975.4 C173.1,975 191.6,974.1 205.3,973.2 C219.1,972.3 237,971.4 249.2,970.2 C261.4,969 268.8,967.9 278.6,965.8 C288.4,963.7 299.3,960 307.9,957.8 C316.5,955.6 322.6,954.7 330,952.6 C337.4,950.5 344.7,947.8 352,945 C359.3,942.2 363,940.8 374,935.8 C385,930.8 403.3,922.1 418,915.3 C432.7,908.4 446.6,901.6 462,894.7 C477.4,887.9 502.6,877.6 510.7,874.2 L510.7,977.6 C501.4,977.7 477.4,977.7 454.6,978.3 C431.8,978.9 391.1,980.1 374,981.2 C356.9,982.3 363,983 352,985 C341,987 320.1,990 307.9,993 C295.7,996 288.4,999.8 278.6,1003.2 C268.8,1006.6 261.4,1008.4 249.2,1013.5 C237,1018.6 219.1,1027.5 205.3,1034 C191.6,1040.5 173.1,1049.2 166.7,1052.3Z" fill="#625856" fill-opacity="0.44"/>
<line x1="162.8" y1="1015.0" x2="514.7" y2="918.2" stroke="#000" stroke-width="7.2"/>
<rect x="132.5" y="696.9" width="412.8" height="413" fill="none" stroke="#000" stroke-width="2.7"/>
<text x="103.5" y="711.3" font-size="32" font-weight="normal" text-anchor="end" fill="#000" >100</text>
<text x="103.5" y="800" font-size="32" font-weight="normal" text-anchor="end" fill="#000" >80</text>
<text x="103.5" y="889" font-size="32" font-weight="normal" text-anchor="end" fill="#000" >60</text>
<text x="103.5" y="978.2" font-size="32" font-weight="normal" text-anchor="end" fill="#000" >40</text>
<text x="103.5" y="1067.2" font-size="32" font-weight="normal" text-anchor="end" fill="#000" >20</text>
<text x="249.2" y="1156.4" font-size="32" font-weight="normal" text-anchor="middle" fill="#000" >−14</text>
<text x="403.8" y="1156.4" font-size="32" font-weight="normal" text-anchor="middle" fill="#000" >−12</text>
<path d="M121,700.1H132.5M121,788.8H132.5M121,877.8H132.5M121,967H132.5M121,1056H132.5M254.4,1109.9V1121.4M409,1109.9V1121.4" stroke="#000" stroke-width="2.6" fill="none"/>
<text x="152.1" y="742.5" font-size="33" font-weight="normal" text-anchor="start" fill="#000" >rho = 0.30</text>
<text x="152.1" y="778.5" font-size="33" font-weight="normal" text-anchor="start" fill="#000" ><tspan font-style="italic">p</tspan> = .0440</text>
<text x="152.1" y="813.4" font-size="33" font-weight="normal" text-anchor="start" fill="#000" >BF</text>
<text x="194" y="819.2" font-size="22" font-weight="normal" text-anchor="start" fill="#000" letter-spacing="2">01</text>
<text x="234.7" y="813.4" font-size="33" font-weight="normal" text-anchor="start" fill="#000" >=</text>
<text x="273.7" y="813.4" font-size="33" font-weight="normal" text-anchor="start" fill="#000" letter-spacing="2">1.33*</text>
<text x="224.9" y="1202.6" font-size="33" font-weight="normal" ><tspan font-size="46" font-weight="normal" dy="6.0">↓</tspan><tspan dx="-3.6" dy="-6.0">β power (dB)</tspan></text>
<text transform="translate(27.2,908.8) rotate(-90)" font-size="33" font-weight="normal" text-anchor="middle">total</text>
<circle cx="845" cy="844.2" r="7.9" fill="#50be46" fill-opacity="0.5"/><circle cx="845" cy="844.2" r="9.2" fill="none" stroke="#50be46" stroke-opacity="0.72" stroke-width="2.6"/><circle cx="1077" cy="887" r="7.9" fill="#50be46" fill-opacity="0.5"/><circle cx="1077" cy="887" r="9.2" fill="none" stroke="#50be46" stroke-opacity="0.72" stroke-width="2.6"/><circle cx="965.6" cy="891.2" r="7.9" fill="#50be46" fill-opacity="0.5"/><circle cx="965.6" cy="891.2" r="9.2" fill="none" stroke="#50be46" stroke-opacity="0.72" stroke-width="2.6"/><circle cx="835" cy="912.6" r="7.9" fill="#50be46" fill-opacity="0.5"/><circle cx="835" cy="912.6" r="9.2" fill="none" stroke="#50be46" stroke-opacity="0.72" stroke-width="2.6"/><circle cx="885" cy="921" r="7.9" fill="#50be46" fill-opacity="0.5"/><circle cx="885" cy="921" r="9.2" fill="none" stroke="#50be46" stroke-opacity="0.72" stroke-width="2.6"/><circle cx="940" cy="920.6" r="7.9" fill="#50be46" fill-opacity="0.5"/><circle cx="940" cy="920.6" r="9.2" fill="none" stroke="#50be46" stroke-opacity="0.72" stroke-width="2.6"/><circle cx="995.4" cy="929.6" r="7.9" fill="#50be46" fill-opacity="0.5"/><circle cx="995.4" cy="929.6" r="9.2" fill="none" stroke="#50be46" stroke-opacity="0.72" stroke-width="2.6"/><circle cx="861.6" cy="937.6" r="7.9" fill="#50be46" fill-opacity="0.5"/><circle cx="861.6" cy="937.6" r="9.2" fill="none" stroke="#50be46" stroke-opacity="0.72" stroke-width="2.6"/><circle cx="766.6" cy="946.2" r="7.9" fill="#50be46" fill-opacity="0.5"/><circle cx="766.6" cy="946.2" r="9.2" fill="none" stroke="#50be46" stroke-opacity="0.72" stroke-width="2.6"/><circle cx="733" cy="955.2" r="7.9" fill="#50be46" fill-opacity="0.5"/><circle cx="733" cy="955.2" r="9.2" fill="none" stroke="#50be46" stroke-opacity="0.72" stroke-width="2.6"/><circle cx="872.8" cy="954.6" r="7.9" fill="#50be46" fill-opacity="0.5"/><circle cx="872.8" cy="954.6" r="9.2" fill="none" stroke="#50be46" stroke-opacity="0.72" stroke-width="2.6"/><circle cx="974.6" cy="954.6" r="7.9" fill="#50be46" fill-opacity="0.5"/><circle cx="974.6" cy="954.6" r="9.2" fill="none" stroke="#50be46" stroke-opacity="0.72" stroke-width="2.6"/><circle cx="948" cy="958.4" r="7.9" fill="#50be46" fill-opacity="0.5"/><circle cx="948" cy="958.4" r="9.2" fill="none" stroke="#50be46" stroke-opacity="0.72" stroke-width="2.6"/><circle cx="944.8" cy="963.2" r="7.9" fill="#50be46" fill-opacity="0.5"/><circle cx="944.8" cy="963.2" r="9.2" fill="none" stroke="#50be46" stroke-opacity="0.72" stroke-width="2.6"/><circle cx="811" cy="972.2" r="7.9" fill="#50be46" fill-opacity="0.5"/><circle cx="811" cy="972.2" r="9.2" fill="none" stroke="#50be46" stroke-opacity="0.72" stroke-width="2.6"/><circle cx="880.8" cy="971.8" r="7.9" fill="#50be46" fill-opacity="0.5"/><circle cx="880.8" cy="971.8" r="9.2" fill="none" stroke="#50be46" stroke-opacity="0.72" stroke-width="2.6"/><circle cx="908" cy="971.8" r="7.9" fill="#50be46" fill-opacity="0.5"/><circle cx="908" cy="971.8" r="9.2" fill="none" stroke="#50be46" stroke-opacity="0.72" stroke-width="2.6"/><circle cx="843" cy="976.6" r="7.9" fill="#50be46" fill-opacity="0.5"/><circle cx="843" cy="976.6" r="9.2" fill="none" stroke="#50be46" stroke-opacity="0.72" stroke-width="2.6"/><circle cx="872.8" cy="980.8" r="7.9" fill="#50be46" fill-opacity="0.5"/><circle cx="872.8" cy="980.8" r="9.2" fill="none" stroke="#50be46" stroke-opacity="0.72" stroke-width="2.6"/><circle cx="957.6" cy="980.8" r="7.9" fill="#50be46" fill-opacity="0.5"/><circle cx="957.6" cy="980.8" r="9.2" fill="none" stroke="#50be46" stroke-opacity="0.72" stroke-width="2.6"/><circle cx="739.4" cy="988.8" r="7.9" fill="#50be46" fill-opacity="0.5"/><circle cx="739.4" cy="988.8" r="9.2" fill="none" stroke="#50be46" stroke-opacity="0.72" stroke-width="2.6"/><circle cx="942.6" cy="988.8" r="7.9" fill="#50be46" fill-opacity="0.5"/><circle cx="942.6" cy="988.8" r="9.2" fill="none" stroke="#50be46" stroke-opacity="0.72" stroke-width="2.6"/><circle cx="958.6" cy="989.8" r="7.9" fill="#50be46" fill-opacity="0.5"/><circle cx="958.6" cy="989.8" r="9.2" fill="none" stroke="#50be46" stroke-opacity="0.72" stroke-width="2.6"/><circle cx="834.4" cy="997.8" r="7.9" fill="#50be46" fill-opacity="0.5"/><circle cx="834.4" cy="997.8" r="9.2" fill="none" stroke="#50be46" stroke-opacity="0.72" stroke-width="2.6"/><circle cx="993.8" cy="997.8" r="7.9" fill="#50be46" fill-opacity="0.5"/><circle cx="993.8" cy="997.8" r="9.2" fill="none" stroke="#50be46" stroke-opacity="0.72" stroke-width="2.6"/><circle cx="821.6" cy="1006.4" r="7.9" fill="#50be46" fill-opacity="0.5"/><circle cx="821.6" cy="1006.4" r="9.2" fill="none" stroke="#50be46" stroke-opacity="0.72" stroke-width="2.6"/><circle cx="976.2" cy="1010.2" r="7.9" fill="#50be46" fill-opacity="0.5"/><circle cx="976.2" cy="1010.2" r="9.2" fill="none" stroke="#50be46" stroke-opacity="0.72" stroke-width="2.6"/><circle cx="852" cy="1012.8" r="7.9" fill="#50be46" fill-opacity="0.5"/><circle cx="852" cy="1012.8" r="9.2" fill="none" stroke="#50be46" stroke-opacity="0.72" stroke-width="2.6"/><circle cx="856.8" cy="1019.2" r="7.9" fill="#50be46" fill-opacity="0.5"/><circle cx="856.8" cy="1019.2" r="9.2" fill="none" stroke="#50be46" stroke-opacity="0.72" stroke-width="2.6"/><circle cx="834.4" cy="1023.4" r="7.9" fill="#50be46" fill-opacity="0.5"/><circle cx="834.4" cy="1023.4" r="9.2" fill="none" stroke="#50be46" stroke-opacity="0.72" stroke-width="2.6"/><circle cx="845.6" cy="1024" r="7.9" fill="#50be46" fill-opacity="0.5"/><circle cx="845.6" cy="1024" r="9.2" fill="none" stroke="#50be46" stroke-opacity="0.72" stroke-width="2.6"/><circle cx="863.2" cy="1024" r="7.9" fill="#50be46" fill-opacity="0.5"/><circle cx="863.2" cy="1024" r="9.2" fill="none" stroke="#50be46" stroke-opacity="0.72" stroke-width="2.6"/><circle cx="880.8" cy="1022.4" r="7.9" fill="#50be46" fill-opacity="0.5"/><circle cx="880.8" cy="1022.4" r="9.2" fill="none" stroke="#50be46" stroke-opacity="0.72" stroke-width="2.6"/><circle cx="882.4" cy="1027.2" r="7.9" fill="#50be46" fill-opacity="0.5"/><circle cx="882.4" cy="1027.2" r="9.2" fill="none" stroke="#50be46" stroke-opacity="0.72" stroke-width="2.6"/><circle cx="853.6" cy="1032" r="7.9" fill="#50be46" fill-opacity="0.5"/><circle cx="853.6" cy="1032" r="9.2" fill="none" stroke="#50be46" stroke-opacity="0.72" stroke-width="2.6"/><circle cx="806.6" cy="1031.4" r="7.9" fill="#50be46" fill-opacity="0.5"/><circle cx="806.6" cy="1031.4" r="9.2" fill="none" stroke="#50be46" stroke-opacity="0.72" stroke-width="2.6"/><circle cx="788" cy="1040" r="7.9" fill="#50be46" fill-opacity="0.5"/><circle cx="788" cy="1040" r="9.2" fill="none" stroke="#50be46" stroke-opacity="0.72" stroke-width="2.6"/><circle cx="754.4" cy="1048.6" r="7.9" fill="#50be46" fill-opacity="0.5"/><circle cx="754.4" cy="1048.6" r="9.2" fill="none" stroke="#50be46" stroke-opacity="0.72" stroke-width="2.6"/><circle cx="868" cy="1057" r="7.9" fill="#50be46" fill-opacity="0.5"/><circle cx="868" cy="1057" r="9.2" fill="none" stroke="#50be46" stroke-opacity="0.72" stroke-width="2.6"/><circle cx="881.8" cy="1057.6" r="7.9" fill="#50be46" fill-opacity="0.5"/><circle cx="881.8" cy="1057.6" r="9.2" fill="none" stroke="#50be46" stroke-opacity="0.72" stroke-width="2.6"/><circle cx="862.6" cy="1074.2" r="7.9" fill="#50be46" fill-opacity="0.5"/><circle cx="862.6" cy="1074.2" r="9.2" fill="none" stroke="#50be46" stroke-opacity="0.72" stroke-width="2.6"/><circle cx="791.2" cy="1087.4" r="7.9" fill="#50be46" fill-opacity="0.5"/><circle cx="791.2" cy="1087.4" r="9.2" fill="none" stroke="#50be46" stroke-opacity="0.72" stroke-width="2.6"/>
<path d="M733,990.7 C741.7,989.8 769.2,987.1 785.1,985.3 C801,983.5 814.1,981.9 828.6,979.9 C843.1,977.9 857.5,975.9 872,973.4 C886.5,970.9 900.9,968.7 915.4,964.7 C929.9,960.7 944.4,954.9 958.9,949.5 C973.4,944.1 982.6,940.1 1002.3,932.1 C1021.9,924.1 1064.4,906.8 1076.8,901.7 L1076.8,975.5 C1060.8,976.4 1003.9,979.2 980.6,981 C957.3,982.8 951.7,984.2 937.2,986.4 C922.7,988.6 908.2,990.7 893.7,994 C879.2,997.3 864.8,1001.1 850.3,1006 C835.8,1010.9 821.4,1017.1 806.9,1023.3 C792.4,1029.5 775.7,1037.3 763.4,1042.9 C751.1,1048.5 738.1,1054.7 733,1057Z" fill="#625856" fill-opacity="0.44"/>
<line x1="728.7" y1="1023.3" x2="1080.5" y2="936.5" stroke="#000" stroke-width="7.2"/>
<rect x="698.6" y="698.5" width="412.8" height="413" fill="none" stroke="#000" stroke-width="2.7"/>
<text x="669.6" y="786.6" font-size="32" font-weight="normal" text-anchor="end" fill="#000" >40</text>
<text x="669.6" y="872" font-size="32" font-weight="normal" text-anchor="end" fill="#000" >30</text>
<text x="669.6" y="957.4" font-size="32" font-weight="normal" text-anchor="end" fill="#000" >20</text>
<text x="669.6" y="1042.6" font-size="32" font-weight="normal" text-anchor="end" fill="#000" >10</text>
<text x="815.4" y="1158" font-size="32" font-weight="normal" text-anchor="middle" fill="#000" >−14</text>
<text x="971" y="1158" font-size="32" font-weight="normal" text-anchor="middle" fill="#000" >−12</text>
<path d="M687.1,775.4H698.6M687.1,860.8H698.6M687.1,946.2H698.6M687.1,1031.4H698.6M820.6,1111.5V1123M976.2,1111.5V1123" stroke="#000" stroke-width="2.6" fill="none"/>
<text x="718.2" y="744.1" font-size="33" font-weight="normal" text-anchor="start" fill="#000" >rho = 0.32</text>
<text x="718.2" y="780.1" font-size="33" font-weight="normal" text-anchor="start" fill="#000" ><tspan font-style="italic">p</tspan> = .0360</text>
<text x="718.2" y="815" font-size="33" font-weight="normal" text-anchor="start" fill="#000" >BF</text>
<text x="760.1" y="820.8" font-size="22" font-weight="normal" text-anchor="start" fill="#000" letter-spacing="2">01</text>
<text x="800.8" y="815" font-size="33" font-weight="normal" text-anchor="start" fill="#000" >=</text>
<text x="839.8" y="815" font-size="33" font-weight="normal" text-anchor="start" fill="#000" letter-spacing="2">1.57*</text>
<text x="790.5" y="1202.6" font-size="33" font-weight="normal" ><tspan font-size="46" font-weight="normal" dy="6.0">↓</tspan><tspan dx="-3.6" dy="-6.0">β power (dB)</tspan></text>
<text transform="translate(614.6,912) rotate(-90)" font-size="33" font-weight="normal" text-anchor="middle">bradykinesia</text>
<circle cx="1511" cy="844.2" r="7.9" fill="#50be46" fill-opacity="0.5"/><circle cx="1511" cy="844.2" r="9.2" fill="none" stroke="#50be46" stroke-opacity="0.72" stroke-width="2.6"/><circle cx="1475.8" cy="858.6" r="7.9" fill="#50be46" fill-opacity="0.5"/><circle cx="1475.8" cy="858.6" r="9.2" fill="none" stroke="#50be46" stroke-opacity="0.72" stroke-width="2.6"/><circle cx="1584.6" cy="887" r="7.9" fill="#50be46" fill-opacity="0.5"/><circle cx="1584.6" cy="887" r="9.2" fill="none" stroke="#50be46" stroke-opacity="0.72" stroke-width="2.6"/><circle cx="1471" cy="894.4" r="7.9" fill="#50be46" fill-opacity="0.5"/><circle cx="1471" cy="894.4" r="9.2" fill="none" stroke="#50be46" stroke-opacity="0.72" stroke-width="2.6"/><circle cx="1439" cy="901.4" r="7.9" fill="#50be46" fill-opacity="0.5"/><circle cx="1439" cy="901.4" r="9.2" fill="none" stroke="#50be46" stroke-opacity="0.72" stroke-width="2.6"/><circle cx="1643.8" cy="901.4" r="7.9" fill="#50be46" fill-opacity="0.5"/><circle cx="1643.8" cy="901.4" r="9.2" fill="none" stroke="#50be46" stroke-opacity="0.72" stroke-width="2.6"/><circle cx="1480.6" cy="915.8" r="7.9" fill="#50be46" fill-opacity="0.5"/><circle cx="1480.6" cy="915.8" r="9.2" fill="none" stroke="#50be46" stroke-opacity="0.72" stroke-width="2.6"/><circle cx="1466.8" cy="920.6" r="7.9" fill="#50be46" fill-opacity="0.5"/><circle cx="1466.8" cy="920.6" r="9.2" fill="none" stroke="#50be46" stroke-opacity="0.72" stroke-width="2.6"/><circle cx="1465.2" cy="929.6" r="7.9" fill="#50be46" fill-opacity="0.5"/><circle cx="1465.2" cy="929.6" r="9.2" fill="none" stroke="#50be46" stroke-opacity="0.72" stroke-width="2.6"/><circle cx="1517.4" cy="929.6" r="7.9" fill="#50be46" fill-opacity="0.5"/><circle cx="1517.4" cy="929.6" r="9.2" fill="none" stroke="#50be46" stroke-opacity="0.72" stroke-width="2.6"/><circle cx="1559" cy="922.2" r="7.9" fill="#50be46" fill-opacity="0.5"/><circle cx="1559" cy="922.2" r="9.2" fill="none" stroke="#50be46" stroke-opacity="0.72" stroke-width="2.6"/><circle cx="1611.8" cy="923.8" r="7.9" fill="#50be46" fill-opacity="0.5"/><circle cx="1611.8" cy="923.8" r="9.2" fill="none" stroke="#50be46" stroke-opacity="0.72" stroke-width="2.6"/><circle cx="1504.6" cy="942.4" r="7.9" fill="#50be46" fill-opacity="0.5"/><circle cx="1504.6" cy="942.4" r="9.2" fill="none" stroke="#50be46" stroke-opacity="0.72" stroke-width="2.6"/><circle cx="1527" cy="944" r="7.9" fill="#50be46" fill-opacity="0.5"/><circle cx="1527" cy="944" r="9.2" fill="none" stroke="#50be46" stroke-opacity="0.72" stroke-width="2.6"/><circle cx="1562" cy="944" r="7.9" fill="#50be46" fill-opacity="0.5"/><circle cx="1562" cy="944" r="9.2" fill="none" stroke="#50be46" stroke-opacity="0.72" stroke-width="2.6"/><circle cx="1498.2" cy="951" r="7.9" fill="#50be46" fill-opacity="0.5"/><circle cx="1498.2" cy="951" r="9.2" fill="none" stroke="#50be46" stroke-opacity="0.72" stroke-width="2.6"/><circle cx="1533.4" cy="952" r="7.9" fill="#50be46" fill-opacity="0.5"/><circle cx="1533.4" cy="952" r="9.2" fill="none" stroke="#50be46" stroke-opacity="0.72" stroke-width="2.6"/><circle cx="1543" cy="952" r="7.9" fill="#50be46" fill-opacity="0.5"/><circle cx="1543" cy="952" r="9.2" fill="none" stroke="#50be46" stroke-opacity="0.72" stroke-width="2.6"/><circle cx="1421.4" cy="957.8" r="7.9" fill="#50be46" fill-opacity="0.5"/><circle cx="1421.4" cy="957.8" r="9.2" fill="none" stroke="#50be46" stroke-opacity="0.72" stroke-width="2.6"/><circle cx="1466.2" cy="957.8" r="7.9" fill="#50be46" fill-opacity="0.5"/><circle cx="1466.2" cy="957.8" r="9.2" fill="none" stroke="#50be46" stroke-opacity="0.72" stroke-width="2.6"/><circle cx="1494" cy="958.4" r="7.9" fill="#50be46" fill-opacity="0.5"/><circle cx="1494" cy="958.4" r="9.2" fill="none" stroke="#50be46" stroke-opacity="0.72" stroke-width="2.6"/><circle cx="1425.2" cy="965.8" r="7.9" fill="#50be46" fill-opacity="0.5"/><circle cx="1425.2" cy="965.8" r="9.2" fill="none" stroke="#50be46" stroke-opacity="0.72" stroke-width="2.6"/><circle cx="1530.8" cy="960" r="7.9" fill="#50be46" fill-opacity="0.5"/><circle cx="1530.8" cy="960" r="9.2" fill="none" stroke="#50be46" stroke-opacity="0.72" stroke-width="2.6"/><circle cx="1527" cy="972.2" r="7.9" fill="#50be46" fill-opacity="0.5"/><circle cx="1527" cy="972.2" r="9.2" fill="none" stroke="#50be46" stroke-opacity="0.72" stroke-width="2.6"/><circle cx="1523.8" cy="972.8" r="7.9" fill="#50be46" fill-opacity="0.5"/><circle cx="1523.8" cy="972.8" r="9.2" fill="none" stroke="#50be46" stroke-opacity="0.72" stroke-width="2.6"/><circle cx="1481.2" cy="972.8" r="7.9" fill="#50be46" fill-opacity="0.5"/><circle cx="1481.2" cy="972.8" r="9.2" fill="none" stroke="#50be46" stroke-opacity="0.72" stroke-width="2.6"/><circle cx="1397.4" cy="986.6" r="7.9" fill="#50be46" fill-opacity="0.5"/><circle cx="1397.4" cy="986.6" r="9.2" fill="none" stroke="#50be46" stroke-opacity="0.72" stroke-width="2.6"/><circle cx="1408.6" cy="986.6" r="7.9" fill="#50be46" fill-opacity="0.5"/><circle cx="1408.6" cy="986.6" r="9.2" fill="none" stroke="#50be46" stroke-opacity="0.72" stroke-width="2.6"/><circle cx="1431.6" cy="986.6" r="7.9" fill="#50be46" fill-opacity="0.5"/><circle cx="1431.6" cy="986.6" r="9.2" fill="none" stroke="#50be46" stroke-opacity="0.72" stroke-width="2.6"/><circle cx="1443.8" cy="987.2" r="7.9" fill="#50be46" fill-opacity="0.5"/><circle cx="1443.8" cy="987.2" r="9.2" fill="none" stroke="#50be46" stroke-opacity="0.72" stroke-width="2.6"/><circle cx="1462" cy="986.6" r="7.9" fill="#50be46" fill-opacity="0.5"/><circle cx="1462" cy="986.6" r="9.2" fill="none" stroke="#50be46" stroke-opacity="0.72" stroke-width="2.6"/><circle cx="1491.8" cy="986.6" r="7.9" fill="#50be46" fill-opacity="0.5"/><circle cx="1491.8" cy="986.6" r="9.2" fill="none" stroke="#50be46" stroke-opacity="0.72" stroke-width="2.6"/><circle cx="1509.4" cy="986.6" r="7.9" fill="#50be46" fill-opacity="0.5"/><circle cx="1509.4" cy="986.6" r="9.2" fill="none" stroke="#50be46" stroke-opacity="0.72" stroke-width="2.6"/><circle cx="1298.8" cy="1001.6" r="7.9" fill="#50be46" fill-opacity="0.5"/><circle cx="1298.8" cy="1001.6" r="9.2" fill="none" stroke="#50be46" stroke-opacity="0.72" stroke-width="2.6"/><circle cx="1465.2" cy="1015.4" r="7.9" fill="#50be46" fill-opacity="0.5"/><circle cx="1465.2" cy="1015.4" r="9.2" fill="none" stroke="#50be46" stroke-opacity="0.72" stroke-width="2.6"/><circle cx="1473.2" cy="1015.4" r="7.9" fill="#50be46" fill-opacity="0.5"/><circle cx="1473.2" cy="1015.4" r="9.2" fill="none" stroke="#50be46" stroke-opacity="0.72" stroke-width="2.6"/><circle cx="1489.2" cy="1015.4" r="7.9" fill="#50be46" fill-opacity="0.5"/><circle cx="1489.2" cy="1015.4" r="9.2" fill="none" stroke="#50be46" stroke-opacity="0.72" stroke-width="2.6"/><circle cx="1500.4" cy="1015.4" r="7.9" fill="#50be46" fill-opacity="0.5"/><circle cx="1500.4" cy="1015.4" r="9.2" fill="none" stroke="#50be46" stroke-opacity="0.72" stroke-width="2.6"/><circle cx="1539.8" cy="1015.4" r="7.9" fill="#50be46" fill-opacity="0.5"/><circle cx="1539.8" cy="1015.4" r="9.2" fill="none" stroke="#50be46" stroke-opacity="0.72" stroke-width="2.6"/><circle cx="1441.2" cy="1029.8" r="7.9" fill="#50be46" fill-opacity="0.5"/><circle cx="1441.2" cy="1029.8" r="9.2" fill="none" stroke="#50be46" stroke-opacity="0.72" stroke-width="2.6"/><circle cx="1538.2" cy="1029.8" r="7.9" fill="#50be46" fill-opacity="0.5"/><circle cx="1538.2" cy="1029.8" r="9.2" fill="none" stroke="#50be46" stroke-opacity="0.72" stroke-width="2.6"/><circle cx="1313.2" cy="1044.2" r="7.9" fill="#50be46" fill-opacity="0.5"/><circle cx="1313.2" cy="1044.2" r="9.2" fill="none" stroke="#50be46" stroke-opacity="0.72" stroke-width="2.6"/><circle cx="1476.4" cy="1072.6" r="7.9" fill="#50be46" fill-opacity="0.5"/><circle cx="1476.4" cy="1072.6" r="9.2" fill="none" stroke="#50be46" stroke-opacity="0.72" stroke-width="2.6"/><circle cx="1396.4" cy="1087" r="7.9" fill="#50be46" fill-opacity="0.5"/><circle cx="1396.4" cy="1087" r="9.2" fill="none" stroke="#50be46" stroke-opacity="0.72" stroke-width="2.6"/>
<path d="M1299.8,990.5 C1308.2,988.9 1334.5,983.8 1350.1,980.7 C1365.7,977.6 1379.1,975 1393.6,972.1 C1408.1,969.2 1422.5,966.9 1437,963.4 C1451.5,959.9 1465.9,956.1 1480.4,951.4 C1494.9,946.7 1509.4,940.4 1523.9,935.1 C1538.4,929.9 1547.3,928.2 1567.3,919.9 C1587.3,911.6 1631,891 1643.7,885.2 L1643.7,942.1 C1631,944.4 1587.3,951.7 1567.3,955.8 C1547.3,959.9 1538.4,962.5 1523.9,966.6 C1509.4,970.8 1494.9,975.5 1480.4,980.7 C1465.9,986 1451.5,991.9 1437,998.1 C1422.5,1004.3 1408.1,1010.8 1393.6,1017.7 C1379.1,1024.6 1365.7,1031.3 1350.1,1039.4 C1334.5,1047.5 1308.2,1062 1299.8,1066.5Z" fill="#625856" fill-opacity="0.44"/>
<line x1="1295.9" y1="1028.1" x2="1647.2" y2="911.7" stroke="#000" stroke-width="7.2"/>
<rect x="1265.7" y="698.6" width="412.8" height="413" fill="none" stroke="#000" stroke-width="2.7"/>
<text x="1236.7" y="726.4" font-size="32" font-weight="normal" text-anchor="end" fill="#000" >30</text>
<text x="1236.7" y="798.4" font-size="32" font-weight="normal" text-anchor="end" fill="#000" >25</text>
<text x="1236.7" y="869.8" font-size="32" font-weight="normal" text-anchor="end" fill="#000" >20</text>
<text x="1236.7" y="941.4" font-size="32" font-weight="normal" text-anchor="end" fill="#000" >15</text>
<text x="1236.7" y="1012.8" font-size="32" font-weight="normal" text-anchor="end" fill="#000" >10</text>
<text x="1236.7" y="1084.2" font-size="32" font-weight="normal" text-anchor="end" fill="#000" >5</text>
<text x="1367.2" y="1158.1" font-size="32" font-weight="normal" text-anchor="middle" fill="#000" >−15</text>
<text x="1516.6" y="1158.1" font-size="32" font-weight="normal" text-anchor="middle" fill="#000" >−12</text>
<text x="1666.2" y="1158.1" font-size="32" font-weight="normal" text-anchor="middle" fill="#000" >−9</text>
<path d="M1254.2,715.2H1265.7M1254.2,787.2H1265.7M1254.2,858.6H1265.7M1254.2,930.2H1265.7M1254.2,1001.6H1265.7M1254.2,1073H1265.7M1372.4,1111.6V1123.1M1521.8,1111.6V1123.1M1671.4,1111.6V1123.1" stroke="#000" stroke-width="2.6" fill="none"/>
<text x="1285.3" y="744.2" font-size="33" font-weight="normal" text-anchor="start" fill="#000" >rho = 0.39</text>
<text x="1285.3" y="780.2" font-size="33" font-weight="normal" text-anchor="start" fill="#000" ><tspan font-style="italic">p</tspan> = .0090</text>
<text x="1285.3" y="815.1" font-size="33" font-weight="normal" text-anchor="start" fill="#000" >BF</text>
<text x="1327.2" y="820.9" font-size="22" font-weight="normal" text-anchor="start" fill="#000" letter-spacing="2">01</text>
<text x="1367.9" y="815.1" font-size="33" font-weight="normal" text-anchor="start" fill="#000" >=</text>
<text x="1406.9" y="815.1" font-size="33" font-weight="normal" text-anchor="start" fill="#000" letter-spacing="2">5.06**</text>
<text x="1357.3" y="1202.6" font-size="33" font-weight="normal" ><tspan font-size="46" font-weight="normal" dy="6.0">↑</tspan><tspan dx="-3.6" dy="-6.0">β power (dB)</tspan></text>
<text transform="translate(1181.4,908) rotate(-90)" font-size="33" font-weight="normal" text-anchor="middle">axial</text>
<circle cx="576.7" cy="1538.6" r="7.9" fill="#50be46" fill-opacity="0.5"/><circle cx="576.7" cy="1538.6" r="9.2" fill="none" stroke="#50be46" stroke-opacity="0.72" stroke-width="2.6"/><circle cx="632.3" cy="1548" r="7.9" fill="#50be46" fill-opacity="0.5"/><circle cx="632.3" cy="1548" r="9.2" fill="none" stroke="#50be46" stroke-opacity="0.72" stroke-width="2.6"/><circle cx="520.4" cy="1557.8" r="7.9" fill="#50be46" fill-opacity="0.5"/><circle cx="520.4" cy="1557.8" r="9.2" fill="none" stroke="#50be46" stroke-opacity="0.72" stroke-width="2.6"/><circle cx="599.6" cy="1557.8" r="7.9" fill="#50be46" fill-opacity="0.5"/><circle cx="599.6" cy="1557.8" r="9.2" fill="none" stroke="#50be46" stroke-opacity="0.72" stroke-width="2.6"/><circle cx="647.5" cy="1575.7" r="7.9" fill="#50be46" fill-opacity="0.5"/><circle cx="647.5" cy="1575.7" r="9.2" fill="none" stroke="#50be46" stroke-opacity="0.72" stroke-width="2.6"/><circle cx="567.6" cy="1585.1" r="7.9" fill="#50be46" fill-opacity="0.5"/><circle cx="567.6" cy="1585.1" r="9.2" fill="none" stroke="#50be46" stroke-opacity="0.72" stroke-width="2.6"/><circle cx="589.5" cy="1585.1" r="7.9" fill="#50be46" fill-opacity="0.5"/><circle cx="589.5" cy="1585.1" r="9.2" fill="none" stroke="#50be46" stroke-opacity="0.72" stroke-width="2.6"/><circle cx="590.2" cy="1595.2" r="7.9" fill="#50be46" fill-opacity="0.5"/><circle cx="590.2" cy="1595.2" r="9.2" fill="none" stroke="#50be46" stroke-opacity="0.72" stroke-width="2.6"/><circle cx="559.2" cy="1612.8" r="7.9" fill="#50be46" fill-opacity="0.5"/><circle cx="559.2" cy="1612.8" r="9.2" fill="none" stroke="#50be46" stroke-opacity="0.72" stroke-width="2.6"/><circle cx="566.6" cy="1612.8" r="7.9" fill="#50be46" fill-opacity="0.5"/><circle cx="566.6" cy="1612.8" r="9.2" fill="none" stroke="#50be46" stroke-opacity="0.72" stroke-width="2.6"/><circle cx="581.1" cy="1612.8" r="7.9" fill="#50be46" fill-opacity="0.5"/><circle cx="581.1" cy="1612.8" r="9.2" fill="none" stroke="#50be46" stroke-opacity="0.72" stroke-width="2.6"/><circle cx="593.6" cy="1622.9" r="7.9" fill="#50be46" fill-opacity="0.5"/><circle cx="593.6" cy="1622.9" r="9.2" fill="none" stroke="#50be46" stroke-opacity="0.72" stroke-width="2.6"/><circle cx="539.6" cy="1631.3" r="7.9" fill="#50be46" fill-opacity="0.5"/><circle cx="539.6" cy="1631.3" r="9.2" fill="none" stroke="#50be46" stroke-opacity="0.72" stroke-width="2.6"/><circle cx="561.9" cy="1632.3" r="7.9" fill="#50be46" fill-opacity="0.5"/><circle cx="561.9" cy="1632.3" r="9.2" fill="none" stroke="#50be46" stroke-opacity="0.72" stroke-width="2.6"/><circle cx="700.8" cy="1632.3" r="7.9" fill="#50be46" fill-opacity="0.5"/><circle cx="700.8" cy="1632.3" r="9.2" fill="none" stroke="#50be46" stroke-opacity="0.72" stroke-width="2.6"/><circle cx="821.1" cy="1622.9" r="7.9" fill="#50be46" fill-opacity="0.5"/><circle cx="821.1" cy="1622.9" r="9.2" fill="none" stroke="#50be46" stroke-opacity="0.72" stroke-width="2.6"/><circle cx="541.3" cy="1639.7" r="7.9" fill="#50be46" fill-opacity="0.5"/><circle cx="541.3" cy="1639.7" r="9.2" fill="none" stroke="#50be46" stroke-opacity="0.72" stroke-width="2.6"/><circle cx="543" cy="1649.8" r="7.9" fill="#50be46" fill-opacity="0.5"/><circle cx="543" cy="1649.8" r="9.2" fill="none" stroke="#50be46" stroke-opacity="0.72" stroke-width="2.6"/><circle cx="549.7" cy="1651.5" r="7.9" fill="#50be46" fill-opacity="0.5"/><circle cx="549.7" cy="1651.5" r="9.2" fill="none" stroke="#50be46" stroke-opacity="0.72" stroke-width="2.6"/><circle cx="637.4" cy="1650.5" r="7.9" fill="#50be46" fill-opacity="0.5"/><circle cx="637.4" cy="1650.5" r="9.2" fill="none" stroke="#50be46" stroke-opacity="0.72" stroke-width="2.6"/><circle cx="476.6" cy="1669.4" r="7.9" fill="#50be46" fill-opacity="0.5"/><circle cx="476.6" cy="1669.4" r="9.2" fill="none" stroke="#50be46" stroke-opacity="0.72" stroke-width="2.6"/><circle cx="502.5" cy="1669.4" r="7.9" fill="#50be46" fill-opacity="0.5"/><circle cx="502.5" cy="1669.4" r="9.2" fill="none" stroke="#50be46" stroke-opacity="0.72" stroke-width="2.6"/><circle cx="573.3" cy="1669.4" r="7.9" fill="#50be46" fill-opacity="0.5"/><circle cx="573.3" cy="1669.4" r="9.2" fill="none" stroke="#50be46" stroke-opacity="0.72" stroke-width="2.6"/><circle cx="704.1" cy="1669.4" r="7.9" fill="#50be46" fill-opacity="0.5"/><circle cx="704.1" cy="1669.4" r="9.2" fill="none" stroke="#50be46" stroke-opacity="0.72" stroke-width="2.6"/><circle cx="527.1" cy="1688.6" r="7.9" fill="#50be46" fill-opacity="0.5"/><circle cx="527.1" cy="1688.6" r="9.2" fill="none" stroke="#50be46" stroke-opacity="0.72" stroke-width="2.6"/><circle cx="510.3" cy="1707.2" r="7.9" fill="#50be46" fill-opacity="0.5"/><circle cx="510.3" cy="1707.2" r="9.2" fill="none" stroke="#50be46" stroke-opacity="0.72" stroke-width="2.6"/><circle cx="539.6" cy="1707.2" r="7.9" fill="#50be46" fill-opacity="0.5"/><circle cx="539.6" cy="1707.2" r="9.2" fill="none" stroke="#50be46" stroke-opacity="0.72" stroke-width="2.6"/><circle cx="548" cy="1707.2" r="7.9" fill="#50be46" fill-opacity="0.5"/><circle cx="548" cy="1707.2" r="9.2" fill="none" stroke="#50be46" stroke-opacity="0.72" stroke-width="2.6"/><circle cx="589.5" cy="1707.2" r="7.9" fill="#50be46" fill-opacity="0.5"/><circle cx="589.5" cy="1707.2" r="9.2" fill="none" stroke="#50be46" stroke-opacity="0.72" stroke-width="2.6"/><circle cx="538.9" cy="1725.7" r="7.9" fill="#50be46" fill-opacity="0.5"/><circle cx="538.9" cy="1725.7" r="9.2" fill="none" stroke="#50be46" stroke-opacity="0.72" stroke-width="2.6"/><circle cx="534.6" cy="1782" r="7.9" fill="#50be46" fill-opacity="0.5"/><circle cx="534.6" cy="1782" r="9.2" fill="none" stroke="#50be46" stroke-opacity="0.72" stroke-width="2.6"/>
<path d="M477.4,1631.7 C485.3,1631.2 511.7,1629.6 525.1,1628.5 C538.5,1627.4 546.8,1628.1 557.7,1625.2 C568.6,1622.3 579.4,1617.4 590.3,1611.1 C601.2,1604.8 612,1595.5 622.9,1587.2 C633.8,1578.9 642.7,1570.6 655.4,1561.2 C668.1,1551.8 684.4,1542.3 698.9,1530.7 C713.4,1519.1 727.8,1503.3 742.3,1491.7 C756.8,1480.1 772.5,1470.7 785.7,1461.3 C798.9,1451.9 815.6,1439.9 821.6,1435.6 L821.6,1623 C812,1623.4 780.8,1624.1 764,1625.2 C747.2,1626.3 735.1,1627.8 720.6,1629.6 C706.1,1631.4 691.7,1633.8 677.2,1636.1 C662.7,1638.4 648.2,1641 633.7,1643.7 C619.2,1646.4 603,1649.5 590.3,1652.4 C577.6,1655.3 568.6,1656.7 557.7,1661 C546.8,1665.3 534.2,1673 525.1,1678.4 C516,1683.8 511.3,1688.2 503.4,1693.6 C495.4,1699 481.7,1708.1 477.4,1711Z" fill="#625856" fill-opacity="0.44"/>
<line x1="474.1" y1="1665.4" x2="824.8" y2="1581.8" stroke="#000" stroke-width="7.2"/>
<rect x="442.8" y="1392.9" width="413.1" height="413.7" fill="none" stroke="#000" stroke-width="2.7"/>
<text x="413.8" y="1437.8" font-size="32" font-weight="normal" text-anchor="end" fill="#000" >24</text>
<text x="413.8" y="1512.7" font-size="32" font-weight="normal" text-anchor="end" fill="#000" >20</text>
<text x="413.8" y="1587.5" font-size="32" font-weight="normal" text-anchor="end" fill="#000" >16</text>
<text x="413.8" y="1662.1" font-size="32" font-weight="normal" text-anchor="end" fill="#000" >12</text>
<text x="413.8" y="1736.9" font-size="32" font-weight="normal" text-anchor="end" fill="#000" >8</text>
<text x="413.8" y="1811.4" font-size="32" font-weight="normal" text-anchor="end" fill="#000" >4</text>
<text x="578.4" y="1853.1" font-size="32" font-weight="normal" text-anchor="middle" fill="#000" >8</text>
<text x="716" y="1853.1" font-size="32" font-weight="normal" text-anchor="middle" fill="#000" >16</text>
<text x="853.2" y="1853.1" font-size="32" font-weight="normal" text-anchor="middle" fill="#000" >24</text>
<path d="M431.3,1426.6H442.8M431.3,1501.5H442.8M431.3,1576.3H442.8M431.3,1650.9H442.8M431.3,1725.7H442.8M431.3,1800.2H442.8M578.4,1806.6V1818.1M716,1806.6V1818.1M853.2,1806.6V1818.1" stroke="#000" stroke-width="2.6" fill="none"/>
<text x="462.4" y="1438.5" font-size="33" font-weight="normal" text-anchor="start" fill="#000" >rho = 0.46</text>
<text x="462.4" y="1474.5" font-size="33" font-weight="normal" text-anchor="start" fill="#000" ><tspan font-style="italic">p</tspan> = .0090</text>
<text x="462.4" y="1509.4" font-size="33" font-weight="normal" text-anchor="start" fill="#000" >BF</text>
<text x="504.3" y="1515.2" font-size="22" font-weight="normal" text-anchor="start" fill="#000" letter-spacing="2">01</text>
<text x="545" y="1509.4" font-size="33" font-weight="normal" text-anchor="start" fill="#000" >=</text>
<text x="584" y="1509.4" font-size="33" font-weight="normal" text-anchor="start" fill="#000" letter-spacing="2">6.05**</text>
<text x="525.5" y="1896" font-size="33" font-weight="bold" ><tspan font-size="46" font-weight="normal" dy="6.0">↑</tspan><tspan dx="-3.6" dy="-6.0">β power (dB)</tspan></text>
<text transform="translate(360.4,1602.6) rotate(-90)" font-size="33" font-weight="bold" text-anchor="middle">axial</text>
<circle cx="1351.2" cy="1538.6" r="7.9" fill="#50be46" fill-opacity="0.5"/><circle cx="1351.2" cy="1538.6" r="9.2" fill="none" stroke="#50be46" stroke-opacity="0.72" stroke-width="2.6"/><circle cx="1412.9" cy="1548" r="7.9" fill="#50be46" fill-opacity="0.5"/><circle cx="1412.9" cy="1548" r="9.2" fill="none" stroke="#50be46" stroke-opacity="0.72" stroke-width="2.6"/><circle cx="1354.5" cy="1557.8" r="7.9" fill="#50be46" fill-opacity="0.5"/><circle cx="1354.5" cy="1557.8" r="9.2" fill="none" stroke="#50be46" stroke-opacity="0.72" stroke-width="2.6"/><circle cx="1368" cy="1557.8" r="7.9" fill="#50be46" fill-opacity="0.5"/><circle cx="1368" cy="1557.8" r="9.2" fill="none" stroke="#50be46" stroke-opacity="0.72" stroke-width="2.6"/><circle cx="1494.8" cy="1575.7" r="7.9" fill="#50be46" fill-opacity="0.5"/><circle cx="1494.8" cy="1575.7" r="9.2" fill="none" stroke="#50be46" stroke-opacity="0.72" stroke-width="2.6"/><circle cx="1360.6" cy="1585.8" r="7.9" fill="#50be46" fill-opacity="0.5"/><circle cx="1360.6" cy="1585.8" r="9.2" fill="none" stroke="#50be46" stroke-opacity="0.72" stroke-width="2.6"/><circle cx="1395" cy="1585.8" r="7.9" fill="#50be46" fill-opacity="0.5"/><circle cx="1395" cy="1585.8" r="9.2" fill="none" stroke="#50be46" stroke-opacity="0.72" stroke-width="2.6"/><circle cx="1340.4" cy="1595.2" r="7.9" fill="#50be46" fill-opacity="0.5"/><circle cx="1340.4" cy="1595.2" r="9.2" fill="none" stroke="#50be46" stroke-opacity="0.72" stroke-width="2.6"/><circle cx="1343.7" cy="1612.8" r="7.9" fill="#50be46" fill-opacity="0.5"/><circle cx="1343.7" cy="1612.8" r="9.2" fill="none" stroke="#50be46" stroke-opacity="0.72" stroke-width="2.6"/><circle cx="1354.9" cy="1612.8" r="7.9" fill="#50be46" fill-opacity="0.5"/><circle cx="1354.9" cy="1612.8" r="9.2" fill="none" stroke="#50be46" stroke-opacity="0.72" stroke-width="2.6"/><circle cx="1403.4" cy="1612.8" r="7.9" fill="#50be46" fill-opacity="0.5"/><circle cx="1403.4" cy="1612.8" r="9.2" fill="none" stroke="#50be46" stroke-opacity="0.72" stroke-width="2.6"/><circle cx="1408.8" cy="1622.9" r="7.9" fill="#50be46" fill-opacity="0.5"/><circle cx="1408.8" cy="1622.9" r="9.2" fill="none" stroke="#50be46" stroke-opacity="0.72" stroke-width="2.6"/><circle cx="1412.9" cy="1622.9" r="7.9" fill="#50be46" fill-opacity="0.5"/><circle cx="1412.9" cy="1622.9" r="9.2" fill="none" stroke="#50be46" stroke-opacity="0.72" stroke-width="2.6"/><circle cx="1347.8" cy="1631.3" r="7.9" fill="#50be46" fill-opacity="0.5"/><circle cx="1347.8" cy="1631.3" r="9.2" fill="none" stroke="#50be46" stroke-opacity="0.72" stroke-width="2.6"/><circle cx="1365" cy="1632.3" r="7.9" fill="#50be46" fill-opacity="0.5"/><circle cx="1365" cy="1632.3" r="9.2" fill="none" stroke="#50be46" stroke-opacity="0.72" stroke-width="2.6"/><circle cx="1655" cy="1622.9" r="7.9" fill="#50be46" fill-opacity="0.5"/><circle cx="1655" cy="1622.9" r="9.2" fill="none" stroke="#50be46" stroke-opacity="0.72" stroke-width="2.6"/><circle cx="1673.1" cy="1632.3" r="7.9" fill="#50be46" fill-opacity="0.5"/><circle cx="1673.1" cy="1632.3" r="9.2" fill="none" stroke="#50be46" stroke-opacity="0.72" stroke-width="2.6"/><circle cx="1341" cy="1639.7" r="7.9" fill="#50be46" fill-opacity="0.5"/><circle cx="1341" cy="1639.7" r="9.2" fill="none" stroke="#50be46" stroke-opacity="0.72" stroke-width="2.6"/><circle cx="1336" cy="1649.8" r="7.9" fill="#50be46" fill-opacity="0.5"/><circle cx="1336" cy="1649.8" r="9.2" fill="none" stroke="#50be46" stroke-opacity="0.72" stroke-width="2.6"/><circle cx="1386.6" cy="1650.5" r="7.9" fill="#50be46" fill-opacity="0.5"/><circle cx="1386.6" cy="1650.5" r="9.2" fill="none" stroke="#50be46" stroke-opacity="0.72" stroke-width="2.6"/><circle cx="1497.2" cy="1650.5" r="7.9" fill="#50be46" fill-opacity="0.5"/><circle cx="1497.2" cy="1650.5" r="9.2" fill="none" stroke="#50be46" stroke-opacity="0.72" stroke-width="2.6"/><circle cx="1327.6" cy="1669.4" r="7.9" fill="#50be46" fill-opacity="0.5"/><circle cx="1327.6" cy="1669.4" r="9.2" fill="none" stroke="#50be46" stroke-opacity="0.72" stroke-width="2.6"/><circle cx="1330.3" cy="1669.4" r="7.9" fill="#50be46" fill-opacity="0.5"/><circle cx="1330.3" cy="1669.4" r="9.2" fill="none" stroke="#50be46" stroke-opacity="0.72" stroke-width="2.6"/><circle cx="1381.5" cy="1669.4" r="7.9" fill="#50be46" fill-opacity="0.5"/><circle cx="1381.5" cy="1669.4" r="9.2" fill="none" stroke="#50be46" stroke-opacity="0.72" stroke-width="2.6"/><circle cx="1458.4" cy="1669.4" r="7.9" fill="#50be46" fill-opacity="0.5"/><circle cx="1458.4" cy="1669.4" r="9.2" fill="none" stroke="#50be46" stroke-opacity="0.72" stroke-width="2.6"/><circle cx="1358.2" cy="1688.6" r="7.9" fill="#50be46" fill-opacity="0.5"/><circle cx="1358.2" cy="1688.6" r="9.2" fill="none" stroke="#50be46" stroke-opacity="0.72" stroke-width="2.6"/><circle cx="1333" cy="1707.2" r="7.9" fill="#50be46" fill-opacity="0.5"/><circle cx="1333" cy="1707.2" r="9.2" fill="none" stroke="#50be46" stroke-opacity="0.72" stroke-width="2.6"/><circle cx="1337" cy="1707.2" r="7.9" fill="#50be46" fill-opacity="0.5"/><circle cx="1337" cy="1707.2" r="9.2" fill="none" stroke="#50be46" stroke-opacity="0.72" stroke-width="2.6"/><circle cx="1354.5" cy="1707.2" r="7.9" fill="#50be46" fill-opacity="0.5"/><circle cx="1354.5" cy="1707.2" r="9.2" fill="none" stroke="#50be46" stroke-opacity="0.72" stroke-width="2.6"/><circle cx="1412.9" cy="1707.2" r="7.9" fill="#50be46" fill-opacity="0.5"/><circle cx="1412.9" cy="1707.2" r="9.2" fill="none" stroke="#50be46" stroke-opacity="0.72" stroke-width="2.6"/><circle cx="1338" cy="1725.7" r="7.9" fill="#50be46" fill-opacity="0.5"/><circle cx="1338" cy="1725.7" r="9.2" fill="none" stroke="#50be46" stroke-opacity="0.72" stroke-width="2.6"/><circle cx="1334.3" cy="1782" r="7.9" fill="#50be46" fill-opacity="0.5"/><circle cx="1334.3" cy="1782" r="9.2" fill="none" stroke="#50be46" stroke-opacity="0.72" stroke-width="2.6"/>
<path d="M1329.6,1621.3 C1336.9,1621 1361.1,1620.5 1373.3,1619.7 C1385.5,1618.9 1392.8,1618.7 1402.6,1616.7 C1412.4,1614.7 1423.4,1610.8 1431.9,1607.9 C1440.5,1605 1446.6,1602 1453.9,1599.1 C1461.2,1596.2 1468.6,1593.2 1475.9,1590.3 C1483.2,1587.4 1488.4,1586.2 1497.9,1581.6 C1507.4,1577 1519.7,1569 1532.9,1562.5 C1546.2,1556 1562.6,1549.5 1577.4,1542.4 C1592.2,1535.3 1606,1527.7 1622,1520.1 C1638,1512.5 1665.1,1500.6 1673.7,1496.7 L1673.7,1636 C1661.4,1636.2 1623.2,1636.3 1599.7,1637.1 C1576.2,1637.8 1553.5,1638.8 1532.9,1640.5 C1512.3,1642.2 1490.3,1645.7 1475.9,1647.5 C1461.5,1649.3 1456.4,1650.1 1446.6,1651.2 C1436.8,1652.3 1427.1,1653 1417.3,1654.1 C1407.5,1655.2 1397.2,1656.2 1387.9,1657.8 C1378.6,1659.4 1368.9,1661.9 1361.6,1663.6 C1354.3,1665.3 1349.3,1666.6 1344,1668 C1338.7,1669.4 1332,1671.5 1329.6,1672.2Z" fill="#625856" fill-opacity="0.44"/>
<line x1="1325.6" y1="1646.0" x2="1677.3" y2="1608.6" stroke="#000" stroke-width="7.2"/>
<rect x="1294.9" y="1392.9" width="413.7" height="413.7" fill="none" stroke="#000" stroke-width="2.7"/>
<text x="1265.9" y="1438.1" font-size="32" font-weight="normal" text-anchor="end" fill="#000" >24</text>
<text x="1265.9" y="1512.7" font-size="32" font-weight="normal" text-anchor="end" fill="#000" >20</text>
<text x="1265.9" y="1587.2" font-size="32" font-weight="normal" text-anchor="end" fill="#000" >16</text>
<text x="1265.9" y="1662.1" font-size="32" font-weight="normal" text-anchor="end" fill="#000" >12</text>
<text x="1265.9" y="1736.9" font-size="32" font-weight="normal" text-anchor="end" fill="#000" >8</text>
<text x="1265.9" y="1811.4" font-size="32" font-weight="normal" text-anchor="end" fill="#000" >4</text>
<text x="1407.8" y="1853.1" font-size="32" font-weight="normal" text-anchor="middle" fill="#000" >0.5</text>
<text x="1532.6" y="1853.1" font-size="32" font-weight="normal" text-anchor="middle" fill="#000" >1.0</text>
<text x="1658.3" y="1853.1" font-size="32" font-weight="normal" text-anchor="middle" fill="#000" >1.5</text>
<path d="M1283.4,1426.9H1294.9M1283.4,1501.5H1294.9M1283.4,1576H1294.9M1283.4,1650.9H1294.9M1283.4,1725.7H1294.9M1283.4,1800.2H1294.9M1407.8,1806.6V1818.1M1532.6,1806.6V1818.1M1658.3,1806.6V1818.1" stroke="#000" stroke-width="2.6" fill="none"/>
<text x="1314.5" y="1438.5" font-size="33" font-weight="normal" text-anchor="start" fill="#000" >rho = 0.35</text>
<text x="1314.5" y="1474.5" font-size="33" font-weight="normal" text-anchor="start" fill="#000" ><tspan font-style="italic">p</tspan> = .0550</text>
<text x="1314.5" y="1509.4" font-size="33" font-weight="normal" text-anchor="start" fill="#000" >BF</text>
<text x="1356.4" y="1515.2" font-size="22" font-weight="normal" text-anchor="start" fill="#000" letter-spacing="2">01</text>
<text x="1397.1" y="1509.4" font-size="33" font-weight="normal" text-anchor="start" fill="#000" >=</text>
<text x="1436.1" y="1509.4" font-size="33" font-weight="normal" text-anchor="start" fill="#000" letter-spacing="2">1.31*</text>
<text x="1398.7" y="1897.6" font-size="33" font-weight="bold" ><tspan font-size="46" font-weight="normal" dy="6.0">↑</tspan><tspan dx="-3.6" dy="-6.0">β burst (s)</tspan></text>
<text transform="translate(1212.6,1602.6) rotate(-90)" font-size="33" font-weight="bold" text-anchor="middle">axial</text></svg></body></html>
